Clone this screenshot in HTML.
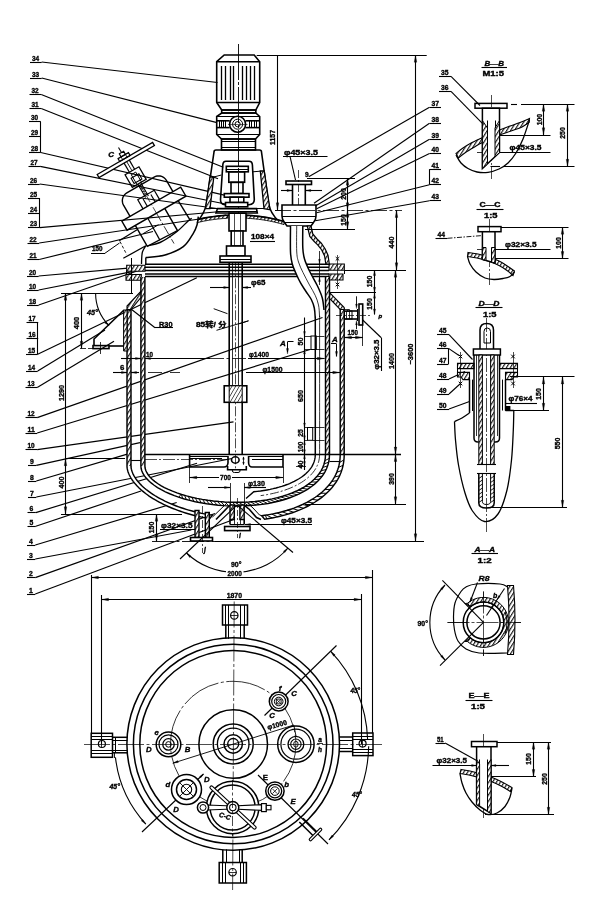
<!DOCTYPE html>
<html><head><meta charset="utf-8"><title>Reactor assembly drawing</title>
<style>
html,body{margin:0;padding:0;background:#fff}
svg{display:block;will-change:transform}
svg *{vector-effect:none}
text{font-family:"Liberation Sans","Noto Sans CJK SC",sans-serif;fill:#000;stroke:#000;stroke-width:0.35px;font-weight:bold}
</style></head><body>
<svg width="600" height="905" viewBox="0 0 600 905" stroke="#000" fill="none" stroke-linecap="butt" stroke-linejoin="miter">
<defs>
<pattern id="h" width="3.3" height="3.3" patternUnits="userSpaceOnUse" patternTransform="rotate(-58)"><rect width="3.3" height="3.3" fill="#fff" stroke="none"/><line x1="0" y1="0.6" x2="3.3" y2="0.6" stroke="#000" stroke-width="1.05"/></pattern>
<pattern id="h2" width="3.3" height="3.3" patternUnits="userSpaceOnUse" patternTransform="rotate(-58)"><rect width="3.3" height="3.3" fill="#fff" stroke="none"/><line x1="0" y1="0.6" x2="3.3" y2="0.6" stroke="#000" stroke-width="1.05"/></pattern>
<pattern id="h3" width="3.2" height="3.2" patternUnits="userSpaceOnUse" patternTransform="rotate(-60)"><rect width="3.2" height="3.2" fill="#fff" stroke="none"/><line x1="0" y1="0" x2="3.2" y2="0" stroke="#000" stroke-width="1.2"/></pattern>
</defs>
<rect x="0" y="0" width="600" height="905" fill="#fff" stroke="none"/>
<text x="32" y="60.7" font-size="7.6" textLength="7.2" lengthAdjust="spacingAndGlyphs" font-weight="bold">34</text>
<line x1="30" y1="62.5" x2="41.7" y2="62.5" stroke-width="1.1"/>
<text x="32" y="76.7" font-size="7.6" textLength="7.2" lengthAdjust="spacingAndGlyphs" font-weight="bold">33</text>
<line x1="30" y1="78.5" x2="41.7" y2="78.5" stroke-width="1.1"/>
<text x="31.5" y="93.2" font-size="7.6" textLength="7.2" lengthAdjust="spacingAndGlyphs" font-weight="bold">32</text>
<line x1="29.5" y1="94.5" x2="41.2" y2="94.5" stroke-width="1.1"/>
<text x="31.5" y="107.2" font-size="7.6" textLength="7.2" lengthAdjust="spacingAndGlyphs" font-weight="bold">31</text>
<line x1="29.5" y1="108.5" x2="41.2" y2="108.5" stroke-width="1.1"/>
<text x="31" y="120.2" font-size="7.6" textLength="7.2" lengthAdjust="spacingAndGlyphs" font-weight="bold">30</text>
<line x1="29" y1="121.5" x2="40.7" y2="121.5" stroke-width="1.1"/>
<text x="31" y="134.7" font-size="7.6" textLength="7.2" lengthAdjust="spacingAndGlyphs" font-weight="bold">29</text>
<line x1="29" y1="136.5" x2="40.7" y2="136.5" stroke-width="1.1"/>
<text x="31" y="151.2" font-size="7.6" textLength="7.2" lengthAdjust="spacingAndGlyphs" font-weight="bold">28</text>
<line x1="29" y1="152.5" x2="40.7" y2="152.5" stroke-width="1.1"/>
<text x="30.5" y="165" font-size="7.6" textLength="7.2" lengthAdjust="spacingAndGlyphs" font-weight="bold">27</text>
<line x1="28.5" y1="166.5" x2="40.2" y2="166.5" stroke-width="1.1"/>
<text x="30" y="182.7" font-size="7.6" textLength="7.2" lengthAdjust="spacingAndGlyphs" font-weight="bold">26</text>
<line x1="28" y1="184.5" x2="39.7" y2="184.5" stroke-width="1.1"/>
<text x="30" y="196.7" font-size="7.6" textLength="7.2" lengthAdjust="spacingAndGlyphs" font-weight="bold">25</text>
<line x1="28" y1="198.5" x2="39.7" y2="198.5" stroke-width="1.1"/>
<text x="30" y="212.4" font-size="7.6" textLength="7.2" lengthAdjust="spacingAndGlyphs" font-weight="bold">24</text>
<line x1="28" y1="213.5" x2="39.7" y2="213.5" stroke-width="1.1"/>
<text x="30" y="226.4" font-size="7.6" textLength="7.2" lengthAdjust="spacingAndGlyphs" font-weight="bold">23</text>
<line x1="28" y1="227.5" x2="39.7" y2="227.5" stroke-width="1.1"/>
<text x="29.5" y="241.7" font-size="7.6" textLength="7.2" lengthAdjust="spacingAndGlyphs" font-weight="bold">22</text>
<line x1="27.5" y1="243.5" x2="39.2" y2="243.5" stroke-width="1.1"/>
<text x="29.5" y="258.2" font-size="7.6" textLength="7.2" lengthAdjust="spacingAndGlyphs" font-weight="bold">21</text>
<line x1="27.5" y1="259.5" x2="39.2" y2="259.5" stroke-width="1.1"/>
<text x="29" y="274.7" font-size="7.6" textLength="7.2" lengthAdjust="spacingAndGlyphs" font-weight="bold">20</text>
<line x1="27" y1="276.5" x2="38.7" y2="276.5" stroke-width="1.1"/>
<text x="29" y="288.7" font-size="7.6" textLength="7.2" lengthAdjust="spacingAndGlyphs" font-weight="bold">10</text>
<line x1="27" y1="290.5" x2="38.7" y2="290.5" stroke-width="1.1"/>
<text x="29" y="303.7" font-size="7.6" textLength="7.2" lengthAdjust="spacingAndGlyphs" font-weight="bold">18</text>
<line x1="27" y1="305.5" x2="38.7" y2="305.5" stroke-width="1.1"/>
<text x="28.5" y="320.7" font-size="7.6" textLength="7.2" lengthAdjust="spacingAndGlyphs" font-weight="bold">17</text>
<line x1="26.5" y1="322.5" x2="38.2" y2="322.5" stroke-width="1.1"/>
<text x="28.5" y="337.4" font-size="7.6" textLength="7.2" lengthAdjust="spacingAndGlyphs" font-weight="bold">16</text>
<line x1="26.5" y1="338.5" x2="38.2" y2="338.5" stroke-width="1.1"/>
<text x="28" y="353" font-size="7.6" textLength="7.2" lengthAdjust="spacingAndGlyphs" font-weight="bold">15</text>
<line x1="26" y1="354.5" x2="37.7" y2="354.5" stroke-width="1.1"/>
<text x="28" y="369.7" font-size="7.6" textLength="7.2" lengthAdjust="spacingAndGlyphs" font-weight="bold">14</text>
<line x1="26" y1="371.5" x2="37.7" y2="371.5" stroke-width="1.1"/>
<text x="27.5" y="386.3" font-size="7.6" textLength="7.2" lengthAdjust="spacingAndGlyphs" font-weight="bold">13</text>
<line x1="25.5" y1="387.5" x2="37.2" y2="387.5" stroke-width="1.1"/>
<text x="27.5" y="416.3" font-size="7.6" textLength="7.2" lengthAdjust="spacingAndGlyphs" font-weight="bold">12</text>
<line x1="25.5" y1="417.5" x2="37.2" y2="417.5" stroke-width="1.1"/>
<text x="27.5" y="431.7" font-size="7.6" textLength="7.2" lengthAdjust="spacingAndGlyphs" font-weight="bold">11</text>
<line x1="25.5" y1="433.5" x2="37.2" y2="433.5" stroke-width="1.1"/>
<text x="27.5" y="448.3" font-size="7.6" textLength="7.2" lengthAdjust="spacingAndGlyphs" font-weight="bold">10</text>
<line x1="25.5" y1="449.5" x2="37.2" y2="449.5" stroke-width="1.1"/>
<text x="30" y="464.1" font-size="7.6" textLength="3.8" lengthAdjust="spacingAndGlyphs" font-weight="bold">9</text>
<line x1="28" y1="465.5" x2="36.3" y2="465.5" stroke-width="1.1"/>
<text x="30" y="479.7" font-size="7.6" textLength="3.8" lengthAdjust="spacingAndGlyphs" font-weight="bold">8</text>
<line x1="28" y1="481.5" x2="36.3" y2="481.5" stroke-width="1.1"/>
<text x="30" y="495.7" font-size="7.6" textLength="3.8" lengthAdjust="spacingAndGlyphs" font-weight="bold">7</text>
<line x1="28" y1="497.5" x2="36.3" y2="497.5" stroke-width="1.1"/>
<text x="29.5" y="511.3" font-size="7.6" textLength="3.8" lengthAdjust="spacingAndGlyphs" font-weight="bold">6</text>
<line x1="27.5" y1="512.5" x2="35.8" y2="512.5" stroke-width="1.1"/>
<text x="29.5" y="525" font-size="7.6" textLength="3.8" lengthAdjust="spacingAndGlyphs" font-weight="bold">5</text>
<line x1="27.5" y1="526.5" x2="35.8" y2="526.5" stroke-width="1.1"/>
<text x="29" y="543.7" font-size="7.6" textLength="3.8" lengthAdjust="spacingAndGlyphs" font-weight="bold">4</text>
<line x1="27" y1="545.5" x2="35.3" y2="545.5" stroke-width="1.1"/>
<text x="29" y="557.7" font-size="7.6" textLength="3.8" lengthAdjust="spacingAndGlyphs" font-weight="bold">3</text>
<line x1="27" y1="559.5" x2="35.3" y2="559.5" stroke-width="1.1"/>
<text x="29" y="576.3" font-size="7.6" textLength="3.8" lengthAdjust="spacingAndGlyphs" font-weight="bold">2</text>
<line x1="27" y1="577.5" x2="35.3" y2="577.5" stroke-width="1.1"/>
<text x="29" y="592.7" font-size="7.6" textLength="3.8" lengthAdjust="spacingAndGlyphs" font-weight="bold">1</text>
<line x1="27" y1="594.5" x2="35.3" y2="594.5" stroke-width="1.1"/>
<line x1="40.5" y1="121.5" x2="40.5" y2="152.5" stroke-width="1.1"/>
<line x1="39.5" y1="198" x2="39.5" y2="227.7" stroke-width="1.1"/>
<line x1="37.5" y1="322" x2="37.5" y2="354.3" stroke-width="1.1"/>
<line x1="41.7" y1="62" x2="217.5" y2="82.5" stroke-width="1.2"/>
<line x1="41.7" y1="78" x2="217" y2="122.6" stroke-width="1.2"/>
<line x1="41.2" y1="94.5" x2="223.3" y2="167.3" stroke-width="1.2"/>
<line x1="41.2" y1="108.5" x2="218" y2="178.7" stroke-width="1.2"/>
<line x1="40.7" y1="152.5" x2="225.3" y2="195.3" stroke-width="1.2"/>
<line x1="40.2" y1="166.3" x2="225.3" y2="204" stroke-width="1.2"/>
<line x1="39.7" y1="184" x2="217" y2="208.5" stroke-width="1.2"/>
<line x1="39.7" y1="227.7" x2="221" y2="211.5" stroke-width="1.2"/>
<line x1="39.2" y1="243" x2="226" y2="215" stroke-width="1.2"/>
<line x1="39.2" y1="259.5" x2="153" y2="231.5" stroke-width="1.2"/>
<line x1="38.7" y1="276" x2="130.8" y2="267.8" stroke-width="1.2"/>
<line x1="38.7" y1="290" x2="131" y2="271.8" stroke-width="1.2"/>
<line x1="38.7" y1="305" x2="140" y2="270" stroke-width="1.2"/>
<line x1="37.7" y1="354.3" x2="196.8" y2="277.7" stroke-width="1.2"/>
<line x1="37.7" y1="371" x2="105" y2="330" stroke-width="1.2"/>
<line x1="37.2" y1="387.6" x2="114" y2="341.3" stroke-width="1.2"/>
<line x1="37.2" y1="417.6" x2="322.5" y2="317.5" stroke-width="1.2"/>
<line x1="37.2" y1="433" x2="310" y2="349.5" stroke-width="1.2"/>
<line x1="37.2" y1="449.6" x2="233.5" y2="421.8" stroke-width="1.2"/>
<line x1="36.3" y1="465.4" x2="140" y2="442.7" stroke-width="1.2"/>
<line x1="36.3" y1="481" x2="129" y2="453.7" stroke-width="1.2"/>
<line x1="36.3" y1="497" x2="232" y2="458.5" stroke-width="1.2"/>
<line x1="35.8" y1="512.6" x2="197" y2="463.3" stroke-width="1.2"/>
<line x1="35.8" y1="526.3" x2="141" y2="491" stroke-width="1.2"/>
<line x1="35.3" y1="545" x2="176.7" y2="502.5" stroke-width="1.2"/>
<line x1="35.3" y1="559" x2="191.3" y2="530" stroke-width="1.2"/>
<line x1="35.3" y1="577.6" x2="215" y2="513.5" stroke-width="1.2"/>
<line x1="35.3" y1="594" x2="235" y2="519" stroke-width="1.2"/>
<line x1="238.5" y1="44" x2="238.5" y2="262" stroke-width="0.9" stroke-dasharray="36 2 3 2"/>
<path d="M224.2 55 L254.2 55 L259.7 61.7 L259.7 102.5 L255.8 110 L221.7 110 L216.7 102.5 L216.7 61.7 Z" stroke-width="1.6" fill="none"/>
<line x1="216.7" y1="61.7" x2="259.7" y2="61.7" stroke-width="1.6"/>
<line x1="216.7" y1="102.5" x2="259.7" y2="102.5" stroke-width="1.6"/>
<line x1="221.5" y1="66" x2="221.5" y2="100" stroke-width="1.3"/>
<line x1="225.5" y1="66" x2="225.5" y2="100" stroke-width="1.3"/>
<line x1="230.5" y1="66" x2="230.5" y2="100" stroke-width="1.3"/>
<line x1="233.5" y1="66" x2="233.5" y2="100" stroke-width="1.3"/>
<line x1="242.5" y1="66" x2="242.5" y2="100" stroke-width="1.3"/>
<line x1="246.5" y1="66" x2="246.5" y2="100" stroke-width="1.3"/>
<line x1="250.5" y1="66" x2="250.5" y2="100" stroke-width="1.3"/>
<line x1="254.5" y1="66" x2="254.5" y2="100" stroke-width="1.3"/>
<rect x="221.7" y="110" width="34.1" height="3" stroke-width="1.6" fill="none"/>
<path d="M221.7 113 H255.8 L259.7 116.5 V134.5 L255.5 139 H221.5 L216.7 134.5 V116.5 Z" stroke-width="1.6" fill="none"/>
<line x1="216.7" y1="116.5" x2="259.7" y2="116.5" stroke-width="1"/>
<line x1="216.7" y1="120.8" x2="229.6" y2="120.8" stroke-width="1.6"/>
<line x1="245.6" y1="120.8" x2="259.7" y2="120.8" stroke-width="1.6"/>
<line x1="216.7" y1="127.6" x2="229.6" y2="127.6" stroke-width="1.6"/>
<line x1="245.6" y1="127.6" x2="259.7" y2="127.6" stroke-width="1.6"/>
<line x1="216.7" y1="134.5" x2="259.7" y2="134.5" stroke-width="1"/>
<line x1="219.5" y1="120.8" x2="219.5" y2="127.6" stroke-width="1"/>
<line x1="221.5" y1="120.8" x2="221.5" y2="127.6" stroke-width="1"/>
<line x1="223.5" y1="120.8" x2="223.5" y2="127.6" stroke-width="1"/>
<line x1="225.5" y1="120.8" x2="225.5" y2="127.6" stroke-width="1"/>
<line x1="249.5" y1="120.8" x2="249.5" y2="127.6" stroke-width="1"/>
<line x1="251.5" y1="120.8" x2="251.5" y2="127.6" stroke-width="1"/>
<line x1="254.5" y1="120.8" x2="254.5" y2="127.6" stroke-width="1"/>
<line x1="256.5" y1="120.8" x2="256.5" y2="127.6" stroke-width="1"/>
<circle cx="237.6" cy="124.2" r="8" stroke-width="1.6" fill="none"/>
<circle cx="237.6" cy="124.2" r="5" stroke-width="1" fill="none"/>
<circle cx="237.6" cy="124.2" r="2.6" stroke-width="1" fill="none"/>
<line x1="228" y1="124.5" x2="247.5" y2="124.5" stroke-width="0.6"/>
<rect x="221.5" y="139" width="34" height="11" stroke-width="1.6" fill="none"/>
<line x1="221.5" y1="141.5" x2="255.5" y2="141.5" stroke-width="1"/>
<line x1="221.5" y1="147.5" x2="255.5" y2="147.5" stroke-width="1"/>
<path d="M214 152 Q214 150 216 150 H259.5 Q261.5 150 261.5 152 L268.5 203 Q270 213 279 221.5" stroke-width="1.6" fill="none"/>
<path d="M214 152 L206.5 203 Q205 213 197.5 221" stroke-width="1.6" fill="none"/>
<path d="M210 177 L213.8 177 L210 208.6 L205.5 208.6 Z" stroke-width="1.3" fill="url(#h)"/>
<line x1="213.8" y1="177" x2="221.3" y2="175" stroke-width="1"/>
<line x1="205.5" y1="208.5" x2="217.5" y2="208.5" stroke-width="1"/>
<path d="M264.2 171 L260.3 171 L264 208.6 L270 209.8 Z" stroke-width="1.3" fill="url(#h)"/>
<line x1="260.3" y1="171.2" x2="252.8" y2="171.8" stroke-width="1"/>
<line x1="257" y1="208.5" x2="264" y2="208.5" stroke-width="1"/>
<path d="M226 161.3 H249 Q252.2 161.3 252.4 165 L254.3 199.5 Q254.3 204.3 249 204.8 H225 Q220.3 204.3 220.5 199.5 L222.8 165 Q223 161.3 226 161.3 Z" stroke-width="1.6" fill="none"/>
<rect x="226.3" y="166.3" width="22" height="5.5" stroke-width="1.6" fill="none"/>
<line x1="226.3" y1="169.5" x2="248.3" y2="169.5" stroke-width="1"/>
<rect x="228.8" y="171.8" width="15.8" height="10.5" stroke-width="1.6" fill="none"/>
<rect x="231" y="182.3" width="12" height="11.2" stroke-width="1.6" fill="none"/>
<rect x="224.3" y="193.6" width="24.7" height="3.6" stroke-width="1.6" fill="#fff"/>
<rect x="230" y="197.2" width="13.8" height="5.3" stroke-width="1.6" fill="none"/>
<rect x="225.5" y="202.5" width="22.2" height="4.3" stroke-width="1.6" fill="#fff"/>
<path d="M217.5 208.6 L256.5 208.6 L257.3 213 L216 213 Z" stroke-width="1.6" fill="none"/>
<line x1="216.8" y1="211.5" x2="257" y2="211.5" stroke-width="1"/>
<path d="M198 219.43 L199.23 219.14 L200.46 218.87 L201.69 218.6 L202.92 218.34 L204.15 218.1 L205.38 217.86 L206.6 217.64 L207.83 217.42 L209.06 217.22 L210.29 217.02 L211.52 216.84 L212.75 216.66 L213.98 216.5 L215.21 216.34 L216.44 216.19 L217.67 216.05 L218.9 215.92 L220.12 215.8 L221.35 215.68 L222.58 215.58 L223.81 215.49 L225.04 215.4 L226.27 215.32 L227.5 215.25 L227.5 218.25 L226.23 218.32 L224.96 218.4 L223.69 218.5 L222.42 218.59 L221.15 218.7 L219.88 218.82 L218.6 218.95 L217.33 219.09 L216.06 219.23 L214.79 219.39 L213.52 219.56 L212.25 219.74 L210.98 219.92 L209.71 220.12 L208.44 220.33 L207.17 220.55 L205.9 220.77 L204.62 221.01 L203.35 221.27 L202.08 221.53 L200.81 221.8 L199.54 222.09 L198.27 222.38 L197 222.69 Z" stroke-width="0.9" fill="url(#h)"/>
<path d="M246 215.23 L247.58 215.31 L249.17 215.41 L250.75 215.53 L252.33 215.66 L253.92 215.8 L255.5 215.96 L257.08 216.13 L258.67 216.32 L260.25 216.53 L261.83 216.74 L263.42 216.98 L265 217.23 L266.58 217.5 L268.17 217.78 L269.75 218.08 L271.33 218.4 L272.92 218.73 L274.5 219.08 L276.08 219.45 L277.67 219.84 L279.25 220.25 L280.83 220.68 L282.42 221.13 L284 221.6 L284 224.64 L282.42 224.16 L280.83 223.71 L279.25 223.27 L277.67 222.86 L276.08 222.47 L274.5 222.1 L272.92 221.74 L271.33 221.41 L269.75 221.09 L268.17 220.79 L266.58 220.5 L265 220.23 L263.42 219.98 L261.83 219.75 L260.25 219.53 L258.67 219.32 L257.08 219.13 L255.5 218.96 L253.92 218.8 L252.33 218.66 L250.75 218.53 L249.17 218.41 L247.58 218.31 L246 218.23 Z" stroke-width="0.9" fill="url(#h2)"/>
<path d="M198 219.43 L201.58 218.62 L205.17 217.9 L208.75 217.27 L212.33 216.72 L215.92 216.25 L219.5 215.86 L223.08 215.54 L226.67 215.3 L230.25 215.13 L233.83 215.03 L237.42 215 L241 215.04 L244.58 215.16 L248.17 215.35 L251.75 215.61 L255.33 215.94 L258.92 216.35 L262.5 216.84 L266.08 217.41 L269.67 218.06 L273.25 218.8 L276.83 219.63 L280.42 220.56 L284 221.6" stroke-width="1.6" fill="none"/>
<rect x="229" y="213.2" width="17" height="17.8" stroke-width="1.6" fill="#fff"/>
<rect x="231.2" y="231" width="11.8" height="15" stroke-width="1.6" fill="#fff"/>
<line x1="234.5" y1="213.2" x2="234.5" y2="246" stroke-width="0.7"/>
<line x1="240.5" y1="213.2" x2="240.5" y2="246" stroke-width="0.7"/>
<rect x="226.5" y="246" width="18.5" height="10" stroke-width="1.6" fill="#fff"/>
<rect x="220" y="256" width="31" height="6.3" stroke-width="1.6" fill="#fff"/>
<line x1="220" y1="259.5" x2="251" y2="259.5" stroke-width="1"/>
<line x1="145" y1="264.3" x2="329" y2="264.3" stroke-width="1.5"/>
<line x1="145" y1="267.3" x2="329" y2="267.3" stroke-width="1.5"/>
<line x1="145" y1="270.4" x2="329" y2="270.4" stroke-width="1.5"/>
<line x1="145" y1="274" x2="329" y2="274" stroke-width="1.5"/>
<line x1="145" y1="276.6" x2="329" y2="276.6" stroke-width="1.5"/>
<path d="M126.7 265.2 H145 V271.2 H126.7 Z" stroke-width="1.1" fill="url(#h)"/>
<path d="M126 274.5 H141.3 V280.2 H126 Z" stroke-width="1.1" fill="url(#h)"/>
<line x1="126.5" y1="270.6" x2="126.5" y2="274" stroke-width="1"/>
<line x1="131.5" y1="258" x2="131.5" y2="293" stroke-width="1"/>
<path d="M329 264 H344.3 V270.3 H329 Z" stroke-width="1.1" fill="url(#h2)"/>
<path d="M329 274 H343 V280 H329 Z" stroke-width="1.1" fill="url(#h2)"/>
<line x1="344.5" y1="270.3" x2="344.5" y2="274" stroke-width="1"/>
<line x1="335.7" y1="257" x2="339.3" y2="260.6" stroke-width="1"/>
<line x1="335.7" y1="260.6" x2="339.3" y2="257" stroke-width="1"/>
<line x1="335.7" y1="282.7" x2="339.3" y2="286.3" stroke-width="1"/>
<line x1="335.7" y1="286.3" x2="339.3" y2="282.7" stroke-width="1"/>
<line x1="337.5" y1="255" x2="337.5" y2="289" stroke-width="0.7"/>
<path d="M329.5 277 L329.5 454 L325.5 454 L325.5 277 Z" fill="url(#h)" stroke="none"/>
<path d="M329.5 454 L329.31 458.11 L328.75 461.82 L327.81 465.37 L326.51 468.79 L324.84 472.09 L322.8 475.28 L320.42 478.35 L317.69 481.29 L314.62 484.1 L311.23 486.77 L307.52 489.3 L303.51 491.67 L299.21 493.88 L294.63 495.93 L289.78 497.8 L284.69 499.49 L279.35 500.99 L273.79 502.31 L268.01 503.43 L262.02 504.35 L255.82 505.07 L249.39 505.59 L242.66 505.9 L235.2 506 L229.86 505.91 L224.14 505.64 L218.32 505.19 L212.47 504.57 L206.65 503.77 L200.89 502.8 L195.25 501.67 L189.74 500.38 L184.41 498.94 L179.27 497.35 L174.37 495.63 L169.73 493.77 L165.36 491.8 L161.29 489.72 L157.55 487.55 L154.15 485.28 L151.11 482.95 L148.44 480.55 L146.16 478.11 L144.28 475.64 L142.81 473.16 L141.75 470.69 L141.11 468.27 L140.9 466 L144.9 466 L145.1 468.06 L145.71 470.26 L146.73 472.5 L148.14 474.75 L149.94 476.99 L152.12 479.21 L154.68 481.38 L157.59 483.5 L160.84 485.55 L164.43 487.53 L168.32 489.42 L172.5 491.2 L176.95 492.89 L181.65 494.45 L186.56 495.89 L191.67 497.2 L196.94 498.37 L202.35 499.4 L207.86 500.28 L213.43 501 L219.04 501.57 L224.61 501.97 L230.08 502.22 L235.2 502.3 L242.34 502.2 L248.79 501.92 L254.94 501.44 L260.88 500.77 L266.62 499.91 L272.15 498.87 L277.48 497.65 L282.59 496.25 L287.47 494.68 L292.11 492.94 L296.49 491.04 L300.61 488.99 L304.46 486.79 L308.01 484.44 L311.25 481.96 L314.19 479.35 L316.8 476.61 L319.09 473.76 L321.03 470.8 L322.63 467.74 L323.88 464.56 L324.78 461.27 L325.32 457.82 L325.5 454 Z" fill="#fff" stroke="none"/>
<line x1="329.28" y1="458.38" x2="324.91" y2="460.63" stroke-width="0.95"/>
<line x1="328.69" y1="462.11" x2="324.07" y2="463.97" stroke-width="0.95"/>
<line x1="327.64" y1="465.9" x2="322.78" y2="467.4" stroke-width="0.95"/>
<line x1="326.16" y1="469.56" x2="321.09" y2="470.71" stroke-width="0.95"/>
<line x1="324.26" y1="473.08" x2="319" y2="473.89" stroke-width="0.95"/>
<line x1="322.1" y1="476.25" x2="316.68" y2="476.76" stroke-width="0.95"/>
<line x1="319.58" y1="479.3" x2="314.02" y2="479.51" stroke-width="0.95"/>
<line x1="316.92" y1="482.04" x2="311.25" y2="481.96" stroke-width="0.95"/>
<line x1="313.96" y1="484.65" x2="308.21" y2="484.3" stroke-width="0.95"/>
<line x1="310.96" y1="486.97" x2="305.14" y2="486.36" stroke-width="0.95"/>
<line x1="307.72" y1="489.17" x2="301.84" y2="488.32" stroke-width="0.95"/>
<line x1="304.24" y1="491.26" x2="298.33" y2="490.16" stroke-width="0.95"/>
<line x1="300.84" y1="493.08" x2="294.91" y2="491.76" stroke-width="0.95"/>
<line x1="297.25" y1="494.79" x2="291.31" y2="493.26" stroke-width="0.95"/>
<line x1="293.8" y1="496.27" x2="287.88" y2="494.54" stroke-width="0.95"/>
<line x1="290.21" y1="497.64" x2="284.31" y2="495.73" stroke-width="0.95"/>
<line x1="286.48" y1="498.92" x2="280.61" y2="496.82" stroke-width="0.95"/>
<line x1="282.62" y1="500.1" x2="276.79" y2="497.82" stroke-width="0.95"/>
<line x1="279" y1="501.08" x2="273.21" y2="498.64" stroke-width="0.95"/>
<line x1="275.28" y1="501.98" x2="269.54" y2="499.39" stroke-width="0.95"/>
<line x1="271.45" y1="502.79" x2="265.78" y2="500.05" stroke-width="0.95"/>
<line x1="267.53" y1="503.51" x2="261.93" y2="500.63" stroke-width="0.95"/>
<line x1="263.52" y1="504.14" x2="257.99" y2="501.12" stroke-width="0.95"/>
<line x1="259.83" y1="504.63" x2="254.36" y2="501.49" stroke-width="0.95"/>
<line x1="256.06" y1="505.05" x2="250.65" y2="501.79" stroke-width="0.95"/>
<line x1="251.77" y1="505.42" x2="246.42" y2="502.05" stroke-width="0.95"/>
<line x1="248.26" y1="505.65" x2="242.93" y2="502.19" stroke-width="0.95"/>
<line x1="244.2" y1="505.84" x2="238.84" y2="502.28" stroke-width="0.95"/>
<line x1="240.45" y1="505.95" x2="234.97" y2="502.3" stroke-width="0.95"/>
<line x1="236.46" y1="506" x2="232.26" y2="502.27" stroke-width="0.95"/>
<line x1="232.49" y1="505.98" x2="228.66" y2="502.17" stroke-width="0.95"/>
<line x1="228.75" y1="505.87" x2="224.97" y2="501.99" stroke-width="0.95"/>
<line x1="224.52" y1="505.66" x2="220.86" y2="501.72" stroke-width="0.95"/>
<line x1="221.01" y1="505.42" x2="217.47" y2="501.42" stroke-width="0.95"/>
<line x1="217.08" y1="505.07" x2="213.71" y2="501.03" stroke-width="0.95"/>
<line x1="213.15" y1="504.65" x2="209.95" y2="500.57" stroke-width="0.95"/>
<line x1="209.23" y1="504.14" x2="206.22" y2="500.03" stroke-width="0.95"/>
<line x1="205.33" y1="503.56" x2="202.53" y2="499.43" stroke-width="0.95"/>
<line x1="201.46" y1="502.91" x2="198.88" y2="498.76" stroke-width="0.95"/>
<line x1="197.65" y1="502.17" x2="195.28" y2="498.02" stroke-width="0.95"/>
<line x1="193.89" y1="501.37" x2="191.76" y2="497.22" stroke-width="0.95"/>
<line x1="190.2" y1="500.49" x2="188.3" y2="496.36" stroke-width="0.95"/>
<line x1="186.22" y1="499.45" x2="184.6" y2="495.34" stroke-width="0.95"/>
<line x1="182.7" y1="498.43" x2="181.33" y2="494.35" stroke-width="0.95"/>
<line x1="178.94" y1="497.24" x2="181.01" y2="494.25" stroke-width="0.95"/>
<path d="M140.9 277 L140.9 466 L144.9 466 L144.9 277 Z" fill="url(#h)" stroke="none"/>
<path d="M329.5 277 L329.5 454 L329.31 458.11 L328.75 461.82 L327.81 465.37 L326.51 468.79 L324.84 472.09 L322.8 475.28 L320.42 478.35 L317.69 481.29 L314.62 484.1 L311.23 486.77 L307.52 489.3 L303.51 491.67 L299.21 493.88 L294.63 495.93 L289.78 497.8 L284.69 499.49 L279.35 500.99 L273.79 502.31 L268.01 503.43 L262.02 504.35 L255.82 505.07 L249.39 505.59 L242.66 505.9 L235.2 506 L229.86 505.91 L224.14 505.64 L218.32 505.19 L212.47 504.57 L206.65 503.77 L200.89 502.8 L195.25 501.67 L189.74 500.38 L184.41 498.94 L179.27 497.35 L174.37 495.63 L169.73 493.77 L165.36 491.8 L161.29 489.72 L157.55 487.55 L154.15 485.28 L151.11 482.95 L148.44 480.55 L146.16 478.11 L144.28 475.64 L142.81 473.16 L141.75 470.69 L141.11 468.27 L140.9 466 L140.9 277" stroke-width="1.45" fill="none"/>
<path d="M325.5 277 L325.5 454 L325.32 457.82 L324.78 461.27 L323.88 464.56 L322.63 467.74 L321.03 470.8 L319.09 473.76 L316.8 476.61 L314.19 479.35 L311.25 481.96 L308.01 484.44 L304.46 486.79 L300.61 488.99 L296.49 491.04 L292.11 492.94 L287.47 494.68 L282.59 496.25 L277.48 497.65 L272.15 498.87 L266.62 499.91 L260.88 500.77 L254.94 501.44 L248.79 501.92 L242.34 502.2 L235.2 502.3 L230.08 502.22 L224.61 501.97 L219.04 501.57 L213.43 501 L207.86 500.28 L202.35 499.4 L196.94 498.37 L191.67 497.2 L186.56 495.89 L181.65 494.45 L176.95 492.89 L172.5 491.2 L168.32 489.42 L164.43 487.53 L160.84 485.55 L157.59 483.5 L154.68 481.38 L152.12 479.21 L149.94 476.99 L148.14 474.75 L146.73 472.5 L145.71 470.26 L145.1 468.06 L144.9 466 L144.9 277" stroke-width="1.45" fill="none"/>
<path d="M344.2 309 L344.2 454 L340.2 454 L340.2 309 Z" fill="url(#h)" stroke="none"/>
<path d="M344.2 454 L344.16 456.38 L344.05 458.53 L343.85 460.6 L343.58 462.62 L343.24 464.6 L342.81 466.54 L342.31 468.45 L341.74 470.33 L341.09 472.19 L340.36 474.01 L339.56 475.82 L338.69 477.59 L337.74 479.34 L336.71 481.06 L335.62 482.75 L334.45 484.42 L333.21 486.05 L331.9 487.66 L330.52 489.24 L329.08 490.79 L327.56 492.31 L325.98 493.79 L324.33 495.25 L322.61 496.67 L320.83 498.06 L318.99 499.41 L317.08 500.73 L315.12 502.01 L313.09 503.25 L311 504.46 L308.86 505.63 L306.66 506.76 L304.4 507.85 L302.09 508.9 L299.73 509.91 L297.31 510.88 L294.84 511.81 L292.32 512.7 L289.76 513.54 L287.14 514.35 L284.48 515.1 L281.77 515.82 L279.02 516.48 L276.22 517.11 L273.38 517.69 L270.5 518.22 L267.58 518.71 L264.61 519.15 L261.71 515.69 L264.63 515.3 L267.52 514.86 L270.35 514.38 L273.15 513.85 L275.9 513.28 L278.61 512.66 L281.28 512 L283.9 511.3 L286.47 510.56 L289 509.77 L291.48 508.95 L293.92 508.08 L296.3 507.17 L298.63 506.22 L300.91 505.23 L303.13 504.21 L305.3 503.14 L307.42 502.04 L309.48 500.9 L311.48 499.72 L313.42 498.51 L315.3 497.26 L317.12 495.98 L318.87 494.67 L320.57 493.32 L322.19 491.94 L323.76 490.53 L325.26 489.08 L326.69 487.61 L328.05 486.11 L329.34 484.58 L330.56 483.02 L331.72 481.43 L332.8 479.82 L333.81 478.18 L334.75 476.51 L335.61 474.82 L336.41 473.1 L337.12 471.36 L337.77 469.59 L338.34 467.8 L338.83 465.97 L339.25 464.12 L339.59 462.23 L339.86 460.3 L340.05 458.33 L340.16 456.27 L340.2 454 Z" fill="#fff" stroke="none"/>
<line x1="343.93" y1="459.88" x2="339.54" y2="462.53" stroke-width="1"/>
<line x1="343.11" y1="465.22" x2="338.44" y2="467.43" stroke-width="1"/>
<line x1="341.69" y1="470.49" x2="336.75" y2="472.29" stroke-width="1"/>
<line x1="339.61" y1="475.72" x2="334.43" y2="477.1" stroke-width="1"/>
<line x1="337.02" y1="480.56" x2="331.63" y2="481.56" stroke-width="1"/>
<line x1="333.98" y1="485.05" x2="328.42" y2="485.68" stroke-width="1"/>
<line x1="330.44" y1="489.34" x2="324.73" y2="489.61" stroke-width="1"/>
<line x1="326.55" y1="493.27" x2="320.72" y2="493.19" stroke-width="1"/>
<line x1="322.38" y1="496.85" x2="316.46" y2="496.45" stroke-width="1"/>
<line x1="317.99" y1="500.11" x2="312" y2="499.4" stroke-width="1"/>
<line x1="313.43" y1="503.05" x2="307.4" y2="502.04" stroke-width="1"/>
<line x1="308.56" y1="505.79" x2="302.51" y2="504.5" stroke-width="1"/>
<line x1="303.59" y1="508.23" x2="297.55" y2="506.67" stroke-width="1"/>
<line x1="298.59" y1="510.38" x2="292.56" y2="508.57" stroke-width="1"/>
<line x1="293.58" y1="512.26" x2="287.59" y2="510.22" stroke-width="1"/>
<line x1="288.13" y1="514.05" x2="282.19" y2="511.77" stroke-width="1"/>
<line x1="282.97" y1="515.51" x2="277.08" y2="513.02" stroke-width="1"/>
<line x1="277.64" y1="516.8" x2="271.82" y2="514.11" stroke-width="1"/>
<line x1="272.14" y1="517.92" x2="266.4" y2="515.04" stroke-width="1"/>
<line x1="266.76" y1="518.83" x2="265.35" y2="515.19" stroke-width="1"/>
<path d="M344.2 309 L344.2 454 L344.16 456.38 L344.05 458.53 L343.85 460.6 L343.58 462.62 L343.24 464.6 L342.81 466.54 L342.31 468.45 L341.74 470.33 L341.09 472.19 L340.36 474.01 L339.56 475.82 L338.69 477.59 L337.74 479.34 L336.71 481.06 L335.62 482.75 L334.45 484.42 L333.21 486.05 L331.9 487.66 L330.52 489.24 L329.08 490.79 L327.56 492.31 L325.98 493.79 L324.33 495.25 L322.61 496.67 L320.83 498.06 L318.99 499.41 L317.08 500.73 L315.12 502.01 L313.09 503.25 L311 504.46 L308.86 505.63 L306.66 506.76 L304.4 507.85 L302.09 508.9 L299.73 509.91 L297.31 510.88 L294.84 511.81 L292.32 512.7 L289.76 513.54 L287.14 514.35 L284.48 515.1 L281.77 515.82 L279.02 516.48 L276.22 517.11 L273.38 517.69 L270.5 518.22 L267.58 518.71 L264.61 519.15 L261.71 515.69 L264.63 515.3 L267.52 514.86 L270.35 514.38 L273.15 513.85 L275.9 513.28 L278.61 512.66 L281.28 512 L283.9 511.3 L286.47 510.56 L289 509.77 L291.48 508.95 L293.92 508.08 L296.3 507.17 L298.63 506.22 L300.91 505.23 L303.13 504.21 L305.3 503.14 L307.42 502.04 L309.48 500.9 L311.48 499.72 L313.42 498.51 L315.3 497.26 L317.12 495.98 L318.87 494.67 L320.57 493.32 L322.19 491.94 L323.76 490.53 L325.26 489.08 L326.69 487.61 L328.05 486.11 L329.34 484.58 L330.56 483.02 L331.72 481.43 L332.8 479.82 L333.81 478.18 L334.75 476.51 L335.61 474.82 L336.41 473.1 L337.12 471.36 L337.77 469.59 L338.34 467.8 L338.83 465.97 L339.25 464.12 L339.59 462.23 L339.86 460.3 L340.05 458.33 L340.16 456.27 L340.2 454 L340.2 309 Z" stroke-width="1.45" fill="none"/>
<path d="M127 310 L127 466 L131 466 L131 310 Z" fill="url(#h)" stroke="none"/>
<path d="M209.66 518.64 L206.95 518.17 L204.24 517.65 L201.53 517.1 L198.83 516.5 L196.14 515.87 L193.46 515.19 L190.8 514.48 L188.15 513.73 L185.54 512.94 L182.94 512.12 L180.38 511.26 L177.85 510.36 L175.36 509.43 L172.9 508.47 L170.49 507.48 L168.12 506.46 L165.79 505.4 L163.52 504.32 L161.29 503.21 L159.12 502.07 L157 500.91 L154.94 499.72 L152.95 498.51 L151.01 497.28 L149.13 496.03 L147.33 494.76 L145.59 493.48 L143.91 492.17 L142.31 490.85 L140.79 489.52 L139.33 488.18 L137.95 486.83 L136.65 485.47 L135.43 484.1 L134.28 482.73 L133.22 481.36 L132.23 479.99 L131.33 478.62 L130.52 477.25 L129.78 475.9 L129.13 474.55 L128.57 473.22 L128.09 471.9 L127.7 470.61 L127.39 469.35 L127.17 468.14 L127.04 466.99 L127 466 L131 466 L131.04 466.94 L131.17 468.02 L131.39 469.17 L131.69 470.36 L132.08 471.58 L132.55 472.82 L133.11 474.08 L133.75 475.35 L134.48 476.63 L135.29 477.92 L136.18 479.21 L137.15 480.51 L138.2 481.8 L139.33 483.09 L140.54 484.38 L141.83 485.66 L143.19 486.94 L144.63 488.2 L146.14 489.45 L147.72 490.69 L149.37 491.92 L151.09 493.13 L152.87 494.32 L154.72 495.5 L156.63 496.65 L158.61 497.78 L160.64 498.9 L162.72 499.98 L164.86 501.05 L167.06 502.08 L169.3 503.09 L171.59 504.08 L173.92 505.03 L176.3 505.95 L178.71 506.85 L181.16 507.71 L183.65 508.54 L186.16 509.33 L188.71 510.09 L191.27 510.81 L193.87 511.5 L196.47 512.15 L199.1 512.77 L201.73 513.35 L204.37 513.89 L207.02 514.39 L209.66 514.85 L212.3 515.27 Z" fill="#fff" stroke="none"/>
<path d="M209.66 518.64 L206.95 518.17 L204.24 517.65 L201.53 517.1 L198.83 516.5 L196.14 515.87 L193.46 515.19 L190.8 514.48 L188.15 513.73 L185.54 512.94 L182.94 512.12 L180.38 511.26 L177.85 510.36 L175.36 509.43 L172.9 508.47 L170.49 507.48 L168.12 506.46 L165.79 505.4 L163.52 504.32 L161.29 503.21 L159.12 502.07 L157 500.91 L154.94 499.72 L152.95 498.51 L151.01 497.28 L149.13 496.03 L147.33 494.76 L145.59 493.48 L143.91 492.17 L142.31 490.85 L140.79 489.52 L139.33 488.18 L137.95 486.83 L136.65 485.47 L135.43 484.1 L134.28 482.73 L133.22 481.36 L132.23 479.99 L131.33 478.62 L130.52 477.25 L129.78 475.9 L129.13 474.55 L128.57 473.22 L128.09 471.9 L127.7 470.61 L127.39 469.35 L127.17 468.14 L127.04 466.99 L127 466 L127 310 L131 310 L131 466 L131.04 466.94 L131.17 468.02 L131.39 469.17 L131.69 470.36 L132.08 471.58 L132.55 472.82 L133.11 474.08 L133.75 475.35 L134.48 476.63 L135.29 477.92 L136.18 479.21 L137.15 480.51 L138.2 481.8 L139.33 483.09 L140.54 484.38 L141.83 485.66 L143.19 486.94 L144.63 488.2 L146.14 489.45 L147.72 490.69 L149.37 491.92 L151.09 493.13 L152.87 494.32 L154.72 495.5 L156.63 496.65 L158.61 497.78 L160.64 498.9 L162.72 499.98 L164.86 501.05 L167.06 502.08 L169.3 503.09 L171.59 504.08 L173.92 505.03 L176.3 505.95 L178.71 506.85 L181.16 507.71 L183.65 508.54 L186.16 509.33 L188.71 510.09 L191.27 510.81 L193.87 511.5 L196.47 512.15 L199.1 512.77 L201.73 513.35 L204.37 513.89 L207.02 514.39 L209.66 514.85 L212.3 515.27 Z" stroke-width="1.45" fill="none"/>
<path d="M127 309.5 L127 306 L140.8 291.5 L140.8 297.5 L131 309.5 Z" stroke-width="1.1" fill="url(#h)"/>
<path d="M329.6 292.7 L344.2 307.5 L344.2 309.5 L340.2 309.5 L329.6 298.5 Z" stroke-width="1.1" fill="url(#h2)"/>
<line x1="145" y1="454.5" x2="401" y2="454.5" stroke-width="1.3"/>
<line x1="66" y1="458.5" x2="125" y2="458.5" stroke-width="1"/>
<line x1="145" y1="459.5" x2="230" y2="459.5" stroke-width="0.7" stroke-dasharray="12 2 2 2"/>
<line x1="229.2" y1="262.3" x2="229.2" y2="385.8" stroke-width="1.6"/>
<line x1="242.2" y1="262.3" x2="242.2" y2="385.8" stroke-width="1.6"/>
<line x1="232.5" y1="262.3" x2="232.5" y2="385.8" stroke-width="0.8"/>
<line x1="238.5" y1="262.3" x2="238.5" y2="385.8" stroke-width="0.8"/>
<line x1="235.5" y1="262.3" x2="235.5" y2="470" stroke-width="0.7" stroke-dasharray="10 2 2 2"/>
<rect x="224.2" y="385.8" width="22.6" height="16.5" stroke-width="1.6" fill="none"/>
<path d="M229.2 385.8 L242.2 385.8 L242.2 402.3 L229.2 402.3 Z" stroke-width="1" fill="url(#h3)"/>
<line x1="229.2" y1="402.3" x2="229.2" y2="454.3" stroke-width="1.6"/>
<line x1="242.2" y1="402.3" x2="242.2" y2="454.3" stroke-width="1.6"/>
<path d="M189.6 454.3 V467 H224 Q227.5 467 228 463 V456" stroke-width="1.6" fill="none"/>
<line x1="189.6" y1="456.5" x2="228" y2="456.5" stroke-width="1"/>
<line x1="189.6" y1="458.5" x2="222" y2="458.5" stroke-width="1"/>
<path d="M283 454.3 V467 H252 Q249 467 248.6 463 V456" stroke-width="1.6" fill="none"/>
<line x1="248.6" y1="456.5" x2="283" y2="456.5" stroke-width="1"/>
<line x1="252" y1="459.5" x2="283" y2="459.5" stroke-width="1"/>
<ellipse cx="235.3" cy="460" rx="3.8" ry="3.2" stroke-width="1.6" fill="none"/>
<path d="M227.6 466 V469.7 H246.3 V466" stroke-width="1.6" fill="none"/>
<path d="M232.4 469.7 V471 Q232.4 472.5 234.5 472.5 H238 Q240 472.5 240 471 V469.7" stroke-width="1" fill="none"/>
<line x1="243.5" y1="457" x2="243.5" y2="464.5" stroke-width="0.8"/>
<path d="M243.5 456.8 L244.4 459.3 L242.6 459.3 Z" fill="#000" stroke-width="0.3"/>
<path d="M243.5 464.7 L242.6 462.2 L244.4 462.2 Z" fill="#000" stroke-width="0.3"/>
<rect x="311" y="336" width="5.3" height="13.5" stroke-width="1" fill="none"/>
<rect x="307.5" y="427.5" width="5.2" height="12.8" stroke-width="1" fill="none"/>
<line x1="312.7" y1="427.5" x2="324.5" y2="427.5" stroke-width="0.8"/>
<line x1="312.7" y1="440.5" x2="324.5" y2="440.5" stroke-width="0.8"/>
<line x1="316.3" y1="336.5" x2="324.5" y2="336.5" stroke-width="0.8"/>
<line x1="316.3" y1="349.5" x2="324.5" y2="349.5" stroke-width="0.8"/>
<line x1="329.5" y1="461.5" x2="340.3" y2="461.5" stroke-width="1.1"/>
<line x1="131" y1="460.5" x2="141" y2="460.5" stroke-width="1.1"/>
<path d="M97.19 174.49 L152.61 142.49 L154.41 145.6 L98.99 177.6 Z" stroke-width="1.3" fill="#fff"/>
<line x1="118.5" y1="147.4" x2="121.5" y2="152.6" stroke-width="1.1"/>
<path d="M119.33 153.85 L123.67 151.35 L125.42 154.38 L121.08 156.88 Z" stroke-width="1.1" fill="none"/>
<path d="M118.05 158.63 L128.45 152.63 L130.1 155.49 L119.7 161.49 Z" stroke-width="1.2" fill="none"/>
<line x1="121.08" y1="156.88" x2="122.73" y2="159.74" stroke-width="0.9"/>
<line x1="125.42" y1="154.38" x2="127.07" y2="157.24" stroke-width="0.9"/>
<line x1="124.1" y1="163.1" x2="129.4" y2="172.28" stroke-width="1.2"/>
<line x1="129.3" y1="160.1" x2="134.6" y2="169.28" stroke-width="1.2"/>
<line x1="126.7" y1="161.6" x2="132" y2="170.78" stroke-width="0.9"/>
<path d="M125.07 174.78 L138.93 166.78 L146.18 179.34 L132.32 187.34 Z" stroke-width="1.3" fill="none"/>
<path d="M131.1 178.23 L138.9 173.73 L141.9 178.93 L134.1 183.43 Z" stroke-width="1.1" fill="none"/>
<line x1="131.25" y1="174.68" x2="137" y2="184.64" stroke-width="1"/>
<line x1="135.75" y1="172.08" x2="141.5" y2="182.04" stroke-width="1"/>
<line x1="131.25" y1="174.68" x2="135.75" y2="172.08" stroke-width="1"/>
<line x1="137.86" y1="184.14" x2="145.61" y2="197.56" stroke-width="1.1"/>
<line x1="140.64" y1="182.54" x2="148.39" y2="195.96" stroke-width="1.1"/>
<line x1="139.11" y1="186.31" x2="142.64" y2="186" stroke-width="0.9"/>
<line x1="140.61" y1="188.9" x2="144.14" y2="188.6" stroke-width="0.9"/>
<line x1="142.11" y1="191.5" x2="145.64" y2="191.2" stroke-width="0.9"/>
<line x1="143.61" y1="194.1" x2="147.14" y2="193.8" stroke-width="0.9"/>
<path d="M130.03 216.38 L123.53 205.12 L123.53 205.12 L122.87 203.7 L122.46 202.18 L122.33 200.62 L122.46 199.05 L122.87 197.54 L123.53 196.12 L124.43 194.83 L125.54 193.72 L126.83 192.82 L154.11 177.07 L155.53 176.41 L157.04 176 L158.61 175.87 L160.17 176 L161.68 176.41 L163.11 177.07 L164.39 177.97 L165.5 179.08 L166.4 180.37 L166.4 180.37 L172.9 191.62" stroke-width="1.4" fill="none"/>
<path d="M121.81 221.12 L180.69 187.12 L185.94 196.22 L127.06 230.22 Z" stroke-width="1.4" fill="none"/>
<path d="M143.02 208.88 L137.77 199.78 L154.23 190.28 L159.48 199.38" stroke-width="1.2" fill="none"/>
<line x1="143.1" y1="199.01" x2="147.35" y2="206.38" stroke-width="1.1"/>
<line x1="150.9" y1="194.51" x2="155.15" y2="201.88" stroke-width="1.1"/>
<line x1="140" y1="184.64" x2="156.5" y2="213.22" stroke-width="0.7" stroke-dasharray="7 2 2 2"/>
<path d="M135.28 225.47 L147.28 246.25 L177.48 230.55 L164.73 208.47" stroke-width="1.4" fill="none"/>
<line x1="178.15" y1="200.72" x2="189.97" y2="219.99" stroke-width="1.4"/>
<line x1="147.84" y1="218.22" x2="159.91" y2="240.12" stroke-width="1.2"/>
<line x1="156.5" y1="213.22" x2="174" y2="243.53" stroke-width="0.8" stroke-dasharray="9 2 2 2"/>
<line x1="142.95" y1="233.74" x2="158.54" y2="224.74" stroke-width="1"/>
<line x1="119.2" y1="240.8" x2="137.5" y2="229.5" stroke-width="1.3"/>
<line x1="123.3" y1="258.3" x2="145.8" y2="245.8" stroke-width="1.3"/>
<line x1="120" y1="241.5" x2="126.7" y2="254.5" stroke-width="0.9" stroke-dasharray="3 1.8"/>
<path d="M147.5 245.8 C149.58 245.25 155.13 244.85 160 242.5 C164.87 240.15 171.98 235.32 176.7 231.7 C181.42 228.08 185.8 223.03 188.3 220.8 C190.8 218.57 191.13 218.72 191.7 218.3" stroke-width="1.4" fill="none"/>
<path d="M198.3 216.7 C198.08 218.08 197.83 222.23 197 225 C196.17 227.77 195.58 229.68 193.3 233.3 C191.02 236.92 188.02 243.08 183.3 246.7 C178.58 250.32 171.25 253.2 165 255 C158.75 256.8 149 257.08 145.8 257.5" stroke-width="1.5" fill="none"/>
<line x1="145.8" y1="257.5" x2="145.8" y2="264" stroke-width="1.4"/>
<path d="M145.8 245.8 C145.25 246.78 143.18 249.62 142.5 251.7 C141.82 253.78 141.87 256.25 141.7 258.3 C141.53 260.35 141.53 263.05 141.5 264" stroke-width="1.3" fill="none"/>
<text x="92" y="251" font-size="7" textLength="10.5" lengthAdjust="spacingAndGlyphs">150</text>
<line x1="91" y1="253.5" x2="105" y2="253.5" stroke-width="1"/>
<line x1="105" y1="253.2" x2="119.5" y2="243" stroke-width="1"/>
<text x="108.3" y="157.2" font-size="8" font-style="italic">C</text>
<rect x="286" y="181" width="25.5" height="3.5" stroke-width="1.6" fill="none"/>
<line x1="292.5" y1="184.5" x2="292.5" y2="205" stroke-width="1.6"/>
<line x1="305.3" y1="184.5" x2="305.3" y2="205" stroke-width="1.6"/>
<line x1="298.5" y1="170" x2="298.5" y2="232" stroke-width="0.7" stroke-dasharray="8 2 2 2"/>
<path d="M282 205 H316 V216 Q316 220 313.5 222.5 L311 226 H287 L284.5 222.5 Q282 220 282 216 Z" stroke-width="1.6" fill="#fff"/>
<line x1="282" y1="216.5" x2="316" y2="216.5" stroke-width="1"/>
<line x1="284" y1="222.5" x2="314" y2="222.5" stroke-width="1"/>
<path d="M311 226 L312.8 234 L317 239 L321.3 243.2 L325.2 249 L328 255.2 L329.3 264 L325.8 264 L324.6 256 L321.7 250 L317.7 244.8 L314 241.3 L309.8 236.5 L307.3 226 Z" stroke-width="1.2" fill="url(#h2)"/>
<path d="M290.5 226 C290.5 230.33 290.22 245.72 290.5 252 C290.78 258.28 291.28 260.12 292.2 263.7 C293.12 267.28 294.58 270.25 296 273.5 C297.42 276.75 299.03 280.2 300.7 283.2 C302.37 286.2 304.23 288.78 306 291.5 C307.77 294.22 309.92 296.75 311.3 299.5 C312.68 302.25 313.65 304.92 314.3 308 C314.95 311.08 315.05 316.33 315.2 318 L324 310 C323.72 308 323.38 302 322.3 298 C321.22 294 319.63 290.5 317.5 286 C315.37 281.5 311.67 275.5 309.5 271 C307.33 266.5 305.62 262.83 304.5 259 C303.38 255.17 303.08 253.5 302.8 248 C302.52 242.5 302.8 229.67 302.8 226 Z" stroke-width="0.1" fill="#fff" stroke="none"/>
<path d="M290.5 226 C290.5 230.33 290.22 245.72 290.5 252 C290.78 258.28 291.28 260.12 292.2 263.7 C293.12 267.28 294.58 270.25 296 273.5 C297.42 276.75 299.03 280.2 300.7 283.2 C302.37 286.2 304.23 288.78 306 291.5 C307.77 294.22 309.92 296.75 311.3 299.5 C312.68 302.25 313.65 304.92 314.3 308 C314.95 311.08 315.03 314.33 315.2 318 C315.37 321.67 315.28 307.33 315.3 330 C315.32 352.67 315.3 433.33 315.3 454" stroke-width="1.5" fill="none"/>
<path d="M302.8 226 C302.8 229.67 302.52 242.5 302.8 248 C303.08 253.5 303.38 255.17 304.5 259 C305.62 262.83 307.33 266.5 309.5 271 C311.67 275.5 315.37 281.5 317.5 286 C319.63 290.5 321.22 294 322.3 298 C323.38 302 323.72 308 324 310" stroke-width="1.5" fill="none"/>
<path d="M296.7 226 C296.7 230.17 296.4 245 296.7 251 C297 257 297.45 258.42 298.5 262 C299.55 265.58 301.17 268.67 303 272.5 C304.83 276.33 307.47 281.2 309.5 285 C311.53 288.8 313.7 291.97 315.2 295.3 C316.7 298.63 317.78 301.55 318.5 305 C319.22 308.45 319.32 311.83 319.5 316 C319.68 320.17 319.58 307 319.6 330 C319.62 353 319.6 433.33 319.6 454" stroke-width="0.8" fill="none"/>
<path d="M315.3 454 L315.3 454 L315.23 456.04 L315.03 457.89 L314.69 459.66 L314.22 461.38 L313.62 463.06 L312.88 464.7 L312.02 466.31 L311.02 467.87 L309.89 469.41 L308.64 470.9 L307.26 472.36 L305.76 473.78 L304.13 475.15 L302.39 476.49 L300.53 477.78 L298.55 479.02 L296.47 480.22 L294.27 481.38 L291.97 482.48 L289.57 483.53 L287.07 484.53 L284.47 485.47 L281.77 486.36 L278.99 487.19 L276.12 487.97 L273.16 488.69 L270.13 489.35 L267.01 489.94 L263.82 490.48 L260.55 490.96 L257.2 491.37 L253.78 491.72 L246 498.5" stroke-width="1.4" fill="none"/>
<path d="M319.6 454 L319.6 454 L319.54 456.18 L319.34 458.15 L319.03 460.05 L318.58 461.89 L318.01 463.69 L317.31 465.44 L316.48 467.17 L315.54 468.85 L314.47 470.5 L313.27 472.11 L311.96 473.68 L310.53 475.22 L308.99 476.71 L307.33 478.16 L305.55 479.57 L303.67 480.94 L301.68 482.25 L299.58 483.53 L297.38 484.75 L295.09 485.92 L292.69 487.04 L290.2 488.11 L287.61 489.13 L284.94 490.09 L282.18 490.99 L279.34 491.83 L276.41 492.62 L273.41 493.35 L270.33 494.01 L267.17 494.62 L263.95 495.16 L260.65 495.64" stroke-width="0.8" fill="none" stroke-dasharray="9 2 2 2"/>
<line x1="319.5" y1="251" x2="319.5" y2="285" stroke-width="0.8"/>
<path d="M319.5 264.3 L318.6 259.3 L320.4 259.3 Z" fill="#000" stroke-width="0.3"/>
<path d="M319.5 276.6 L320.4 281.6 L318.6 281.6 Z" fill="#000" stroke-width="0.3"/>
<path d="M230 505 H234.3 V519.5 H230 Z" stroke-width="1.4" fill="url(#h)"/>
<path d="M239.9 505 H244.2 V519.5 H239.9 Z" stroke-width="1.4" fill="url(#h)"/>
<line x1="230" y1="519.5" x2="230" y2="524.5" stroke-width="1.6"/>
<line x1="244.2" y1="519.5" x2="244.2" y2="524.5" stroke-width="1.6"/>
<line x1="234.5" y1="519.5" x2="234.5" y2="524.5" stroke-width="0.8"/>
<line x1="240.5" y1="519.5" x2="240.5" y2="524.5" stroke-width="0.8"/>
<rect x="224.6" y="526.5" width="25.4" height="4.1" stroke-width="1.6" fill="#fff"/>
<line x1="230" y1="524.5" x2="244.2" y2="524.5" stroke-width="1"/>
<line x1="237.5" y1="498" x2="237.5" y2="538" stroke-width="0.7" stroke-dasharray="6 2 2 2"/>
<path d="M216 519.5 L229.5 505.5" stroke-width="1.6" fill="none"/>
<path d="M212.5 517 L226.5 503.5" stroke-width="1" fill="none"/>
<path d="M244.5 505.5 L249.5 509.5 L256.5 517.5 L261 519.5" stroke-width="1.6" fill="none"/>
<path d="M248 503.5 L253 508 L259.5 515 L263.5 516" stroke-width="1" fill="none"/>
<path d="M195 510.5 H199 V537.5 H195 Z" stroke-width="1.4" fill="url(#h)"/>
<path d="M205.3 512.5 H209.3 V537.5 H205.3 Z" stroke-width="1.4" fill="url(#h)"/>
<rect x="190.5" y="537.5" width="22" height="3.5" stroke-width="1.6" fill="#fff"/>
<line x1="202.5" y1="506" x2="202.5" y2="553" stroke-width="0.7" stroke-dasharray="8 2 2 2"/>
<path d="M123.6 310 H127 V351 H123.6 Z" stroke-width="1" fill="url(#h)"/>
<path d="M124 310 L94 339 L94 345.6" stroke-width="1.6" fill="none"/>
<rect x="93" y="345.6" width="16" height="3" stroke-width="1.6" fill="none"/>
<line x1="109" y1="346" x2="123.6" y2="346" stroke-width="1.6"/>
<line x1="100.5" y1="342" x2="100.5" y2="354" stroke-width="0.8"/>
<line x1="80" y1="348.5" x2="93" y2="348.5" stroke-width="0.8" stroke-dasharray="6 2"/>
<line x1="344.2" y1="311" x2="357.5" y2="311" stroke-width="1.6"/>
<line x1="344.2" y1="319" x2="357.5" y2="319" stroke-width="1.6"/>
<rect x="359" y="304" width="3.7" height="21" stroke-width="1.6" fill="#fff"/>
<line x1="357.5" y1="309" x2="357.5" y2="321" stroke-width="1"/>
<path d="M344.2 309.5 L349.5 309.5 L349.5 311 L344.2 311 Z" stroke-width="0.8" fill="url(#h2)"/>
<rect x="344.4" y="311" width="7.6" height="8" stroke-width="1" fill="none"/>
<line x1="346.5" y1="311" x2="346.5" y2="319" stroke-width="0.8"/>
<line x1="349.5" y1="311" x2="349.5" y2="319" stroke-width="0.8"/>
<line x1="336" y1="315.5" x2="372" y2="315.5" stroke-width="0.7" stroke-dasharray="6 2 2 2"/>
<line x1="256.7" y1="55.5" x2="426.7" y2="55.5" stroke-width="1.1"/>
<line x1="277.5" y1="55" x2="277.5" y2="210" stroke-width="1.1"/>
<path d="M277.5 210 L276.25 202.8 L278.75 202.8 Z" fill="#000" stroke-width="0.3"/>
<line x1="275" y1="210.5" x2="282" y2="210.5" stroke-width="0.8"/>
<text x="275.2" y="137.5" font-size="7.8" text-anchor="middle" transform="rotate(-90 275.2 137.5)" textLength="15" lengthAdjust="spacingAndGlyphs">1157</text>
<line x1="415.5" y1="55" x2="415.5" y2="541" stroke-width="1.1"/>
<path d="M415.5 55 L416.75 62.2 L414.25 62.2 Z" fill="#000" stroke-width="0.3"/>
<path d="M415.5 541 L414.25 533.8 L416.75 533.8 Z" fill="#000" stroke-width="0.3"/>
<text x="413.3" y="354" font-size="7.8" text-anchor="middle" transform="rotate(-90 413.3 354)" textLength="21" lengthAdjust="spacingAndGlyphs">~3600</text>
<text x="284" y="155" font-size="7.8" textLength="34" lengthAdjust="spacingAndGlyphs">φ45×3.5</text>
<line x1="283" y1="156.5" x2="327.5" y2="156.5" stroke-width="1.1"/>
<line x1="290" y1="156.3" x2="295.5" y2="180" stroke-width="1.1"/>
<text x="305" y="177.2" font-size="6.5">9</text>
<line x1="307" y1="178.5" x2="355" y2="178.5" stroke-width="1.1"/>
<line x1="281" y1="190.5" x2="292.5" y2="190.5" stroke-width="1.1"/>
<path d="M292.5 190.5 L287 191.5 L287 189.5 Z" fill="#000" stroke-width="0.3"/>
<line x1="305.3" y1="190.5" x2="322" y2="190.5" stroke-width="1.1"/>
<path d="M305.3 190.5 L310.8 189.5 L310.8 191.5 Z" fill="#000" stroke-width="0.3"/>
<line x1="347.5" y1="178" x2="347.5" y2="229" stroke-width="1.1"/>
<path d="M347.5 178 L348.75 185.2 L346.25 185.2 Z" fill="#000" stroke-width="0.3"/>
<path d="M347.5 210 L346.25 202.8 L348.75 202.8 Z" fill="#000" stroke-width="0.3"/>
<path d="M347.5 210 L348.75 217.2 L346.25 217.2 Z" fill="#000" stroke-width="0.3"/>
<path d="M347.5 229 L346.25 221.8 L348.75 221.8 Z" fill="#000" stroke-width="0.3"/>
<text x="346" y="194" font-size="7.8" text-anchor="middle" transform="rotate(-90 346 194)" textLength="11.5" lengthAdjust="spacingAndGlyphs">200</text>
<text x="346" y="220" font-size="7.8" text-anchor="middle" transform="rotate(-90 346 220)" textLength="11.5" lengthAdjust="spacingAndGlyphs">150</text>
<line x1="275" y1="210.5" x2="402" y2="210.5" stroke-width="0.8" stroke-dasharray="16 2.5 3 2.5"/>
<line x1="305" y1="229.5" x2="355" y2="229.5" stroke-width="1.1"/>
<line x1="396.5" y1="210.3" x2="396.5" y2="270" stroke-width="1.1"/>
<path d="M396.5 210.3 L397.75 217.5 L395.25 217.5 Z" fill="#000" stroke-width="0.3"/>
<path d="M396.5 270 L395.25 262.8 L397.75 262.8 Z" fill="#000" stroke-width="0.3"/>
<text x="394.2" y="242.5" font-size="7.8" text-anchor="middle" transform="rotate(-90 394.2 242.5)" textLength="12" lengthAdjust="spacingAndGlyphs">440</text>
<line x1="344.3" y1="270.5" x2="406" y2="270.5" stroke-width="1.1"/>
<line x1="395.5" y1="270" x2="395.5" y2="454.3" stroke-width="1.1"/>
<path d="M395.5 270 L396.75 277.2 L394.25 277.2 Z" fill="#000" stroke-width="0.3"/>
<path d="M395.5 454.3 L394.25 447.1 L396.75 447.1 Z" fill="#000" stroke-width="0.3"/>
<text x="393.5" y="361" font-size="7.8" text-anchor="middle" transform="rotate(-90 393.5 361)" textLength="16" lengthAdjust="spacingAndGlyphs">1400</text>
<line x1="374.5" y1="270" x2="374.5" y2="314.5" stroke-width="1.1"/>
<path d="M374.5 270 L375.5 275.5 L373.5 275.5 Z" fill="#000" stroke-width="0.3"/>
<path d="M374.5 292.7 L373.5 287.2 L375.5 287.2 Z" fill="#000" stroke-width="0.3"/>
<path d="M374.5 292.7 L375.5 298.2 L373.5 298.2 Z" fill="#000" stroke-width="0.3"/>
<path d="M374.5 314.5 L373.5 309 L375.5 309 Z" fill="#000" stroke-width="0.3"/>
<text x="371.5" y="281.5" font-size="7.8" text-anchor="middle" transform="rotate(-90 371.5 281.5)" textLength="11.5" lengthAdjust="spacingAndGlyphs">150</text>
<text x="371.5" y="304" font-size="7.8" text-anchor="middle" transform="rotate(-90 371.5 304)" textLength="11.5" lengthAdjust="spacingAndGlyphs">150</text>
<line x1="329.5" y1="292.5" x2="376" y2="292.5" stroke-width="1.1"/>
<text x="378.5" y="318" font-size="6" font-style="italic">p</text>
<text x="347.5" y="335" font-size="7.8" textLength="10.5" lengthAdjust="spacingAndGlyphs">150</text>
<line x1="344.3" y1="337.5" x2="362.7" y2="337.5" stroke-width="1.1"/>
<path d="M344.3 337.5 L351.5 336.25 L351.5 338.75 Z" fill="#000" stroke-width="0.3"/>
<path d="M362.7 337.5 L355.5 338.75 L355.5 336.25 Z" fill="#000" stroke-width="0.3"/>
<line x1="362.5" y1="325" x2="362.5" y2="346" stroke-width="0.8"/>
<line x1="362.7" y1="320" x2="381" y2="337.5" stroke-width="1.1"/>
<line x1="381.5" y1="337.5" x2="381.5" y2="371" stroke-width="1.1"/>
<text x="379.3" y="354.5" font-size="7.8" text-anchor="middle" transform="rotate(-90 379.3 354.5)" textLength="30" lengthAdjust="spacingAndGlyphs">φ32×3.5</text>
<line x1="395.5" y1="454.3" x2="395.5" y2="504" stroke-width="1.1"/>
<path d="M395.5 454.3 L396.75 461.5 L394.25 461.5 Z" fill="#000" stroke-width="0.3"/>
<path d="M395.5 504 L394.25 496.8 L396.75 496.8 Z" fill="#000" stroke-width="0.3"/>
<text x="394" y="479" font-size="7.8" text-anchor="middle" transform="rotate(-90 394 479)" textLength="11.5" lengthAdjust="spacingAndGlyphs">390</text>
<line x1="305" y1="504.5" x2="406" y2="504.5" stroke-width="1.1"/>
<line x1="152" y1="541.5" x2="215" y2="541.5" stroke-width="0.9" stroke-dasharray="22 2.5 3 2.5"/>
<line x1="215" y1="541.5" x2="424" y2="541.5" stroke-width="1"/>
<line x1="304.5" y1="317.5" x2="304.5" y2="470" stroke-width="1.1"/>
<path d="M304.5 336 L303.6 331.5 L305.4 331.5 Z" fill="#000" stroke-width="0.3"/>
<path d="M304.5 349.5 L305.4 354 L303.6 354 Z" fill="#000" stroke-width="0.3"/>
<path d="M304.5 427.5 L303.6 423 L305.4 423 Z" fill="#000" stroke-width="0.3"/>
<path d="M304.5 440.3 L305.4 444.8 L303.6 444.8 Z" fill="#000" stroke-width="0.3"/>
<path d="M304.5 440.3 L303.6 435.8 L305.4 435.8 Z" fill="#000" stroke-width="0.3"/>
<path d="M304.5 454.3 L303.6 449.8 L305.4 449.8 Z" fill="#000" stroke-width="0.3"/>
<path d="M304.5 454.3 L305.4 458.8 L303.6 458.8 Z" fill="#000" stroke-width="0.3"/>
<path d="M304.5 466 L303.6 461.5 L305.4 461.5 Z" fill="#000" stroke-width="0.3"/>
<line x1="304" y1="336.5" x2="311" y2="336.5" stroke-width="0.8"/>
<line x1="304" y1="349.5" x2="311" y2="349.5" stroke-width="0.8"/>
<line x1="304" y1="427.5" x2="307.5" y2="427.5" stroke-width="0.8"/>
<line x1="304" y1="440.5" x2="307.5" y2="440.5" stroke-width="0.8"/>
<text x="302.8" y="341.5" font-size="7.8" text-anchor="middle" transform="rotate(-90 302.8 341.5)" textLength="8" lengthAdjust="spacingAndGlyphs">50</text>
<text x="302.8" y="396" font-size="7.8" text-anchor="middle" transform="rotate(-90 302.8 396)" textLength="12" lengthAdjust="spacingAndGlyphs">650</text>
<text x="302.8" y="433" font-size="7.4" text-anchor="middle" transform="rotate(-90 302.8 433)" textLength="7.5" lengthAdjust="spacingAndGlyphs">25</text>
<text x="302.8" y="447" font-size="7.4" text-anchor="middle" transform="rotate(-90 302.8 447)" textLength="10.5" lengthAdjust="spacingAndGlyphs">100</text>
<text x="302.8" y="464.5" font-size="7.4" text-anchor="middle" transform="rotate(-90 302.8 464.5)" textLength="8" lengthAdjust="spacingAndGlyphs">40</text>
<line x1="296" y1="466.5" x2="306" y2="466.5" stroke-width="0.8"/>
<line x1="61" y1="293.5" x2="133" y2="293.5" stroke-width="1.1"/>
<line x1="65.5" y1="293" x2="65.5" y2="514" stroke-width="1.1"/>
<path d="M65.5 293 L66.75 300.2 L64.25 300.2 Z" fill="#000" stroke-width="0.3"/>
<path d="M65.5 514 L64.25 506.8 L66.75 506.8 Z" fill="#000" stroke-width="0.3"/>
<text x="63.5" y="393" font-size="7.8" text-anchor="middle" transform="rotate(-90 63.5 393)" textLength="16" lengthAdjust="spacingAndGlyphs">1290</text>
<line x1="65.5" y1="458.5" x2="65.5" y2="458.5" stroke-width="1.1"/>
<path d="M65.5 458.5 L66.75 465.7 L64.25 465.7 Z" fill="#000" stroke-width="0.3"/>
<text x="63.8" y="482.5" font-size="7.8" text-anchor="middle" transform="rotate(-90 63.8 482.5)" textLength="12" lengthAdjust="spacingAndGlyphs">400</text>
<line x1="81.5" y1="293" x2="81.5" y2="348.4" stroke-width="1.1"/>
<path d="M81.5 293 L82.75 300.2 L80.25 300.2 Z" fill="#000" stroke-width="0.3"/>
<path d="M81.5 348.4 L80.25 341.2 L82.75 341.2 Z" fill="#000" stroke-width="0.3"/>
<text x="79" y="323" font-size="7.8" text-anchor="middle" transform="rotate(-90 79 323)" textLength="12.5" lengthAdjust="spacingAndGlyphs">400</text>
<text x="87" y="315" font-size="8" textLength="11" lengthAdjust="spacingAndGlyphs" font-style="italic">45°</text>
<path d="M95.6 293 A46 46 0 0 0 109 325.5" stroke-width="1.1" fill="none"/>
<path d="M109 325.5 L104.59 322.98 L105.75 321.6 Z" fill="#000" stroke-width="0.3"/>
<text x="159" y="326.6" font-size="7.8" textLength="13.5" lengthAdjust="spacingAndGlyphs">R30</text>
<line x1="155" y1="327.5" x2="173" y2="327.5" stroke-width="1.1"/>
<path d="M131 309 L152.5 325.7 L155 327.7" stroke-width="1.1" fill="none"/>
<text x="196" y="326.8" font-size="6.6" textLength="30.5" lengthAdjust="spacingAndGlyphs">85转/ 分</text>
<line x1="213.7" y1="308.7" x2="227.5" y2="313.7" stroke-width="0.95"/>
<line x1="216.5" y1="330.3" x2="248.5" y2="320.8" stroke-width="0.95"/>
<line x1="248.5" y1="320.8" x2="239.5" y2="323.8" stroke-width="0.95"/>
<text x="146" y="357" font-size="7.8" textLength="7" lengthAdjust="spacingAndGlyphs">10</text>
<line x1="121" y1="358.5" x2="141" y2="358.5" stroke-width="1.1"/>
<path d="M141 358.5 L135.5 359.5 L135.5 357.5 Z" fill="#000" stroke-width="0.3"/>
<path d="M145 358.5 L150.5 357.5 L150.5 359.5 Z" fill="#000" stroke-width="0.3"/>
<line x1="145" y1="358.5" x2="210" y2="358.5" stroke-width="1.1"/>
<line x1="210" y1="358.5" x2="248" y2="358.5" stroke-width="0.8" stroke-dasharray="14 2.5 3 2.5"/>
<line x1="248" y1="358.5" x2="324.5" y2="358.5" stroke-width="1.1"/>
<path d="M324.5 358.5 L317.3 359.75 L317.3 357.25 Z" fill="#000" stroke-width="0.3"/>
<text x="249" y="357" font-size="7.8" textLength="20" lengthAdjust="spacingAndGlyphs">φ1400</text>
<text x="120" y="370" font-size="7.8">6</text>
<line x1="113" y1="372.5" x2="127" y2="372.5" stroke-width="1.1"/>
<path d="M127 372.5 L121.5 373.5 L121.5 371.5 Z" fill="#000" stroke-width="0.3"/>
<path d="M131 372.5 L136.5 371.5 L136.5 373.5 Z" fill="#000" stroke-width="0.3"/>
<line x1="131" y1="372.5" x2="139" y2="372.5" stroke-width="1.1"/>
<line x1="148" y1="372.5" x2="180" y2="372.5" stroke-width="0.8" stroke-dasharray="14 2.5 3 2.5"/>
<line x1="246" y1="372.5" x2="340" y2="372.5" stroke-width="1.1"/>
<path d="M340 372.5 L332.8 373.75 L332.8 371.25 Z" fill="#000" stroke-width="0.3"/>
<text x="262.5" y="372" font-size="7.8" textLength="20" lengthAdjust="spacingAndGlyphs">φ1500</text>
<text x="251" y="285.2" font-size="7.8" textLength="14.5" lengthAdjust="spacingAndGlyphs">φ65</text>
<line x1="210" y1="287.5" x2="229.2" y2="287.5" stroke-width="1.1"/>
<path d="M229.2 287.5 L223.7 288.5 L223.7 286.5 Z" fill="#000" stroke-width="0.3"/>
<path d="M242.2 287.5 L247.7 286.5 L247.7 288.5 Z" fill="#000" stroke-width="0.3"/>
<line x1="242.2" y1="287.5" x2="251" y2="287.5" stroke-width="1.1"/>
<text x="280" y="345.5" font-size="8" font-style="italic">A</text>
<line x1="287.7" y1="341.5" x2="293.5" y2="341.5" stroke-width="1"/>
<line x1="287.5" y1="341.6" x2="287.5" y2="352" stroke-width="1"/>
<path d="M287.5 354 L286.5 348.5 L288.5 348.5 Z" fill="#000" stroke-width="0.3"/>
<text x="332" y="342" font-size="8" font-style="italic">A</text>
<line x1="331" y1="343.5" x2="336.3" y2="343.5" stroke-width="1"/>
<line x1="336.5" y1="343.6" x2="336.5" y2="356" stroke-width="1"/>
<path d="M336.5 357 L335.5 351.5 L337.5 351.5 Z" fill="#000" stroke-width="0.3"/>
<text x="251" y="239" font-size="7.8" textLength="23" lengthAdjust="spacingAndGlyphs">108×4</text>
<line x1="250" y1="241.5" x2="275" y2="241.5" stroke-width="1.1"/>
<line x1="189.5" y1="467" x2="189.5" y2="483" stroke-width="0.8"/>
<line x1="283.5" y1="467" x2="283.5" y2="483" stroke-width="0.8"/>
<line x1="189.6" y1="477.5" x2="283" y2="477.5" stroke-width="1.1"/>
<path d="M189.6 477.5 L196.8 476.25 L196.8 478.75 Z" fill="#000" stroke-width="0.3"/>
<path d="M283 477.5 L275.8 478.75 L275.8 476.25 Z" fill="#000" stroke-width="0.3"/>
<rect x="219" y="473.5" width="13" height="7.5" fill="#fff" stroke="none"/>
<text x="220" y="480.2" font-size="7.8" textLength="11" lengthAdjust="spacingAndGlyphs">700</text>
<text x="248" y="485.6" font-size="7.8" textLength="17" lengthAdjust="spacingAndGlyphs">φ130</text>
<line x1="208" y1="487.5" x2="230" y2="487.5" stroke-width="1.1"/>
<path d="M230 487.5 L224.5 488.5 L224.5 486.5 Z" fill="#000" stroke-width="0.3"/>
<path d="M244.2 487.5 L249.7 486.5 L249.7 488.5 Z" fill="#000" stroke-width="0.3"/>
<line x1="244.2" y1="487.5" x2="266" y2="487.5" stroke-width="1.1"/>
<line x1="230.5" y1="483" x2="230.5" y2="505" stroke-width="0.8"/>
<line x1="244.5" y1="483" x2="244.5" y2="505" stroke-width="0.8"/>
<text x="281" y="522.6" font-size="7.8" textLength="31" lengthAdjust="spacingAndGlyphs">φ45×3.5</text>
<line x1="245" y1="524.5" x2="312" y2="524.5" stroke-width="1.1"/>
<path d="M245 524.5 L250.5 523.5 L250.5 525.5 Z" fill="#000" stroke-width="0.3"/>
<line x1="61" y1="514.5" x2="182" y2="514.5" stroke-width="1.1"/>
<line x1="156.5" y1="514" x2="156.5" y2="541.3" stroke-width="1.1"/>
<path d="M156.5 514 L157.75 521.2 L155.25 521.2 Z" fill="#000" stroke-width="0.3"/>
<path d="M156.5 541.3 L155.25 534.1 L157.75 534.1 Z" fill="#000" stroke-width="0.3"/>
<text x="154" y="527.5" font-size="7.8" text-anchor="middle" transform="rotate(-90 154 527.5)" textLength="11.5" lengthAdjust="spacingAndGlyphs">150</text>
<text x="161" y="527.7" font-size="7.8" textLength="31.5" lengthAdjust="spacingAndGlyphs">φ32×3.5</text>
<line x1="160" y1="529.5" x2="195" y2="529.5" stroke-width="1.1"/>
<line x1="237" y1="505" x2="180" y2="559" stroke-width="1.1"/>
<line x1="237" y1="505" x2="293" y2="552.5" stroke-width="1.1"/>
<path d="M186.5 553 A70 70 0 0 0 288 548" stroke-width="1.1" fill="none"/>
<path d="M186.5 553 L191.1 556.18 L189.68 557.6 Z" fill="#000" stroke-width="0.3"/>
<path d="M288 548 L284.82 552.6 L283.4 551.18 Z" fill="#000" stroke-width="0.3"/>
<rect x="230" y="559" width="13" height="8" fill="#fff" stroke="none"/>
<text x="231" y="566.5" font-size="7.8" textLength="10.5" lengthAdjust="spacingAndGlyphs">90°</text>
<text x="239" y="538" font-size="6.5" font-style="italic">i</text>
<text x="204" y="552" font-size="6.5" font-style="italic">j</text>
<line x1="356.5" y1="296.3" x2="356.5" y2="305" stroke-width="0.9"/>
<path d="M356.5 308.6 L355.6 304.1 L357.4 304.1 Z" fill="#000" stroke-width="0.3"/>
<line x1="356.5" y1="324" x2="356.5" y2="329" stroke-width="0.9"/>
<path d="M356.5 320.4 L357.4 324.9 L355.6 324.9 Z" fill="#000" stroke-width="0.3"/>
<text x="441" y="75.1" font-size="7.6" textLength="7.5" lengthAdjust="spacingAndGlyphs" font-weight="bold">35</text>
<line x1="439" y1="76.5" x2="451" y2="76.5" stroke-width="1.1"/>
<line x1="451" y1="76.4" x2="480" y2="105.5" stroke-width="1.1"/>
<text x="441" y="90.1" font-size="7.6" textLength="7.5" lengthAdjust="spacingAndGlyphs" font-weight="bold">36</text>
<line x1="439" y1="91.5" x2="451" y2="91.5" stroke-width="1.1"/>
<line x1="451" y1="91.4" x2="487.5" y2="128.6" stroke-width="1.1"/>
<text x="431.5" y="106" font-size="7.6" textLength="7.5" lengthAdjust="spacingAndGlyphs" font-weight="bold">37</text>
<line x1="429.5" y1="107.5" x2="441" y2="107.5" stroke-width="1.1"/>
<line x1="429.5" y1="107.3" x2="308.7" y2="176.7" stroke-width="1.1"/>
<text x="431.5" y="122" font-size="7.6" textLength="7.5" lengthAdjust="spacingAndGlyphs" font-weight="bold">38</text>
<line x1="429.5" y1="123.5" x2="441" y2="123.5" stroke-width="1.1"/>
<line x1="429.5" y1="123.3" x2="314" y2="203.3" stroke-width="1.1"/>
<text x="431.5" y="138" font-size="7.6" textLength="7.5" lengthAdjust="spacingAndGlyphs" font-weight="bold">39</text>
<line x1="429.5" y1="139.5" x2="441" y2="139.5" stroke-width="1.1"/>
<line x1="429.5" y1="139.3" x2="315.3" y2="206" stroke-width="1.1"/>
<text x="431.5" y="152.2" font-size="7.6" textLength="7.5" lengthAdjust="spacingAndGlyphs" font-weight="bold">40</text>
<line x1="429.5" y1="153.5" x2="441" y2="153.5" stroke-width="1.1"/>
<line x1="429.5" y1="153.5" x2="316.7" y2="208.7" stroke-width="1.1"/>
<text x="431.5" y="167.9" font-size="7.6" textLength="7.5" lengthAdjust="spacingAndGlyphs" font-weight="bold">41</text>
<line x1="429.5" y1="169.5" x2="441" y2="169.5" stroke-width="1.1"/>
<text x="431.5" y="183.4" font-size="7.6" textLength="7.5" lengthAdjust="spacingAndGlyphs" font-weight="bold">42</text>
<line x1="429.5" y1="184.5" x2="441" y2="184.5" stroke-width="1.1"/>
<line x1="429.5" y1="184.7" x2="316.7" y2="212.7" stroke-width="1.1"/>
<text x="431.5" y="199.4" font-size="7.6" textLength="7.5" lengthAdjust="spacingAndGlyphs" font-weight="bold">43</text>
<line x1="429.5" y1="200.5" x2="441" y2="200.5" stroke-width="1.1"/>
<line x1="429.5" y1="200.7" x2="315.3" y2="220.7" stroke-width="1.1"/>
<line x1="429.5" y1="169.2" x2="429.5" y2="184.7" stroke-width="1.1"/>
<text x="437.5" y="237" font-size="7.6" textLength="7.5" lengthAdjust="spacingAndGlyphs" font-weight="bold">44</text>
<line x1="435.5" y1="238.5" x2="447.5" y2="238.5" stroke-width="1.1"/>
<line x1="447.5" y1="238.3" x2="483" y2="235.5" stroke-width="0.9" stroke-dasharray="5 1.5 1.5 1.5"/>
<text x="484.5" y="66" font-size="7.6" textLength="19.5" lengthAdjust="spacingAndGlyphs" font-style="italic" font-weight="bold">B—B</text>
<line x1="481.5" y1="67.5" x2="507" y2="67.5" stroke-width="1.1"/>
<text x="482.5" y="76" font-size="7.2" textLength="21.5" lengthAdjust="spacingAndGlyphs" font-weight="bold">M1:5</text>
<line x1="491.5" y1="95" x2="491.5" y2="179" stroke-width="0.7" stroke-dasharray="12 2 2 2"/>
<rect x="475" y="103.4" width="32" height="4.8" stroke-width="1.5" fill="none"/>
<path d="M456 153.5 C457.17 152.58 460.33 149.83 463 148 C465.67 146.17 468.77 144.25 472 142.5 C475.23 140.75 477.82 139.58 482.4 137.5 C486.98 135.42 494.9 131.92 499.5 130 C504.1 128.08 506.58 127.25 510 126 C513.42 124.75 516.75 123.75 520 122.5 C523.25 121.25 527.92 119.17 529.5 118.5 L529 122.5 C527.67 123.33 524 126.08 521 127.5 C518 128.92 514.58 129.75 511 131 C507.42 132.25 504.27 133.07 499.5 135 C494.73 136.93 486.57 140.6 482.4 142.6 C478.23 144.6 477.32 145.35 474.5 147 C471.68 148.65 468.17 150.67 465.5 152.5 C462.83 154.33 459.67 157.08 458.5 158 Z" stroke-width="1.1" fill="url(#h)"/>
<path d="M456 155 C456.83 156.33 459 160.75 461 163 C463 165.25 465.33 167 468 168.5 C470.67 170 473.67 171.37 477 172 C480.33 172.63 484.33 172.8 488 172.3 C491.67 171.8 495.67 170.55 499 169 C502.33 167.45 505.17 165.67 508 163 C510.83 160.33 513.5 157 516 153 C518.5 149 520.75 144.5 523 139 C525.25 133.5 528.42 123.17 529.5 120" stroke-width="1.3" fill="none"/>
<path d="M482.4 108.2 V168.5 L499.5 152.5 V108.2 Z" stroke-width="1.5" fill="#fff"/>
<path d="M482.4 120.5 L487.5 128 L487.5 164 L482.4 168.5 Z" stroke-width="1" fill="url(#h)"/>
<path d="M499.5 120.5 L495 128 L495 157 L499.5 152.5 Z" stroke-width="1" fill="url(#h)"/>
<line x1="487.5" y1="120.5" x2="487.5" y2="128" stroke-width="1"/>
<line x1="495.5" y1="120.5" x2="495.5" y2="128" stroke-width="1"/>
<line x1="511" y1="104.5" x2="517" y2="104.5" stroke-width="1.1"/>
<line x1="521" y1="104.5" x2="574.5" y2="104.5" stroke-width="1.1"/>
<line x1="499.5" y1="135.5" x2="550.5" y2="135.5" stroke-width="1.1"/>
<line x1="490.5" y1="166.5" x2="500" y2="166.5" stroke-width="1.1"/>
<line x1="504" y1="166.5" x2="574.5" y2="166.5" stroke-width="1.1"/>
<line x1="543.5" y1="104" x2="543.5" y2="135" stroke-width="1.1"/>
<path d="M543.5 104 L544.75 111.2 L542.25 111.2 Z" fill="#000" stroke-width="0.3"/>
<path d="M543.5 135 L542.25 127.8 L544.75 127.8 Z" fill="#000" stroke-width="0.3"/>
<text x="541.6" y="119.6" font-size="7.8" text-anchor="middle" transform="rotate(-90 541.6 119.6)" textLength="11.5" lengthAdjust="spacingAndGlyphs">100</text>
<line x1="567.5" y1="104" x2="567.5" y2="166.5" stroke-width="1.1"/>
<path d="M567.5 104 L568.75 111.2 L566.25 111.2 Z" fill="#000" stroke-width="0.3"/>
<path d="M567.5 166.5 L566.25 159.3 L568.75 159.3 Z" fill="#000" stroke-width="0.3"/>
<text x="565" y="133" font-size="7.8" text-anchor="middle" transform="rotate(-90 565 133)" textLength="11.5" lengthAdjust="spacingAndGlyphs">250</text>
<text x="509.5" y="150.3" font-size="7.8" textLength="32" lengthAdjust="spacingAndGlyphs">φ45×3.5</text>
<line x1="477" y1="152.5" x2="482" y2="152.5" stroke-width="0.8"/>
<line x1="499.5" y1="152.5" x2="550.5" y2="152.5" stroke-width="1.1"/>
<text x="479.5" y="207.3" font-size="7.6" textLength="21" lengthAdjust="spacingAndGlyphs" font-weight="bold">C—C</text>
<line x1="476.5" y1="209.5" x2="503.5" y2="209.5" stroke-width="1.1"/>
<text x="484" y="217.5" font-size="7.2" textLength="13.5" lengthAdjust="spacingAndGlyphs" font-weight="bold">1:5</text>
<line x1="489.5" y1="219" x2="489.5" y2="286.5" stroke-width="0.7" stroke-dasharray="12 2 2 2"/>
<rect x="478" y="226.6" width="23" height="5.1" stroke-width="1.5" fill="none"/>
<path d="M468 252.5 C469.67 252.75 474.5 253.25 478 254 C481.5 254.75 485.33 255.75 489 257 C492.67 258.25 496.83 259.92 500 261.5 C503.17 263.08 505.58 264.92 508 266.5 C510.42 268.08 513.42 270.25 514.5 271 L513 275.5 C512 274.67 509.33 272.17 507 270.5 C504.67 268.83 502.17 267.08 499 265.5 C495.83 263.92 491.67 262.25 488 261 C484.33 259.75 480.42 258.75 477 258 C473.58 257.25 469.08 256.75 467.5 256.5 Z" stroke-width="1.1" fill="url(#h)"/>
<path d="M467.5 256.5 C467.92 257.75 468.58 261.42 470 264 C471.42 266.58 473.5 269.67 476 272 C478.5 274.33 482 276.75 485 278 C488 279.25 491 279.42 494 279.5 C497 279.58 500.33 279 503 278.5 C505.67 278 508.08 277.58 510 276.5 C511.92 275.42 513.75 272.75 514.5 272" stroke-width="1.3" fill="none"/>
<path d="M482.4 231.7 V259.5 L495 263 V231.7 Z" stroke-width="1.5" fill="#fff"/>
<path d="M482.4 247.5 L486 247.5 L486 260.5 L482.4 259.5 Z" stroke-width="1" fill="url(#h)"/>
<path d="M495 247.5 L491.5 247.5 L491.5 262 L495 263 Z" stroke-width="1" fill="url(#h)"/>
<line x1="501" y1="227.5" x2="568.5" y2="227.5" stroke-width="1.1"/>
<line x1="495" y1="258.5" x2="568.5" y2="258.5" stroke-width="1.1"/>
<line x1="562.5" y1="227" x2="562.5" y2="258.7" stroke-width="1.1"/>
<path d="M562.5 227 L563.75 234.2 L561.25 234.2 Z" fill="#000" stroke-width="0.3"/>
<path d="M562.5 258.7 L561.25 251.5 L563.75 251.5 Z" fill="#000" stroke-width="0.3"/>
<text x="560.5" y="243" font-size="7.8" text-anchor="middle" transform="rotate(-90 560.5 243)" textLength="11.5" lengthAdjust="spacingAndGlyphs">100</text>
<text x="505" y="247" font-size="7.8" textLength="31.5" lengthAdjust="spacingAndGlyphs">φ32×3.5</text>
<line x1="477" y1="249.5" x2="482" y2="249.5" stroke-width="0.8"/>
<line x1="495" y1="249.5" x2="550.5" y2="249.5" stroke-width="1.1"/>
<text x="478.5" y="306" font-size="7.6" textLength="21" lengthAdjust="spacingAndGlyphs" font-style="italic" font-weight="bold">D—D</text>
<line x1="475.5" y1="307.5" x2="502.5" y2="307.5" stroke-width="1.1"/>
<text x="483" y="317" font-size="7.2" textLength="13.5" lengthAdjust="spacingAndGlyphs" font-weight="bold">1:5</text>
<text x="439" y="333.3" font-size="7.6" textLength="7.5" lengthAdjust="spacingAndGlyphs" font-weight="bold">45</text>
<line x1="437" y1="334.5" x2="449" y2="334.5" stroke-width="1.1"/>
<line x1="449" y1="334.6" x2="472.5" y2="359.5" stroke-width="1.1"/>
<text x="439" y="347.1" font-size="7.6" textLength="7.5" lengthAdjust="spacingAndGlyphs" font-weight="bold">46</text>
<line x1="437" y1="348.5" x2="448.5" y2="348.5" stroke-width="1.1"/>
<text x="439" y="362.7" font-size="7.6" textLength="7.5" lengthAdjust="spacingAndGlyphs" font-weight="bold">47</text>
<line x1="437" y1="364.5" x2="448.5" y2="364.5" stroke-width="1.1"/>
<line x1="448.5" y1="348.4" x2="448.5" y2="364" stroke-width="1.1"/>
<line x1="448.5" y1="348.4" x2="459" y2="355.5" stroke-width="1.1"/>
<text x="439" y="377.7" font-size="7.6" textLength="7.5" lengthAdjust="spacingAndGlyphs" font-weight="bold">48</text>
<line x1="437" y1="379.5" x2="449" y2="379.5" stroke-width="1.1"/>
<line x1="449" y1="379" x2="465" y2="371.5" stroke-width="1.1"/>
<text x="439" y="392.7" font-size="7.6" textLength="7.5" lengthAdjust="spacingAndGlyphs" font-weight="bold">49</text>
<line x1="437" y1="394.5" x2="449" y2="394.5" stroke-width="1.1"/>
<line x1="449" y1="394" x2="460.5" y2="383.5" stroke-width="1.1"/>
<text x="439" y="407.7" font-size="7.6" textLength="7.5" lengthAdjust="spacingAndGlyphs" font-weight="bold">50</text>
<line x1="437" y1="409.5" x2="449" y2="409.5" stroke-width="1.1"/>
<line x1="449" y1="409" x2="469.5" y2="401.5" stroke-width="1.1"/>
<line x1="486.5" y1="318" x2="486.5" y2="532" stroke-width="0.7" stroke-dasharray="14 2 2 2"/>
<path d="M480 349 V330 Q480 323.4 486.7 323.4 Q493.5 323.4 493.5 330 V349" stroke-width="1.5" fill="none"/>
<path d="M484 343 V331.5 Q484 328 487.2 328 Q490.5 328 490.5 331.5 V343 Z" stroke-width="1" fill="none"/>
<rect x="473.4" y="349" width="27" height="6" stroke-width="1.5" fill="#fff"/>
<path d="M457.5 363.4 H474 V368.6 H457.5 Z" stroke-width="1.1" fill="url(#h)"/>
<path d="M499.5 363.4 H517.5 V368.6 H499.5 Z" stroke-width="1.1" fill="url(#h)"/>
<path d="M457.5 372.4 L469.5 372.4 L469.5 379.6 L463 379.6 L461 377 L457.5 377 Z" stroke-width="1.1" fill="url(#h)"/>
<path d="M517.5 372.4 L505.5 372.4 L505.5 379.6 L512 379.6 L514 377 L517.5 377 Z" stroke-width="1.1" fill="url(#h)"/>
<line x1="457.5" y1="368.6" x2="457.5" y2="372.4" stroke-width="1"/>
<line x1="517.5" y1="368.6" x2="517.5" y2="372.4" stroke-width="1"/>
<line x1="460.5" y1="352" x2="460.5" y2="388" stroke-width="0.7"/>
<line x1="513.5" y1="352" x2="513.5" y2="388" stroke-width="0.7"/>
<line x1="458.7" y1="354.7" x2="462.3" y2="358.3" stroke-width="1"/>
<line x1="458.7" y1="358.3" x2="462.3" y2="354.7" stroke-width="1"/>
<line x1="458.7" y1="381.7" x2="462.3" y2="385.3" stroke-width="1"/>
<line x1="458.7" y1="385.3" x2="462.3" y2="381.7" stroke-width="1"/>
<line x1="511.2" y1="354.7" x2="514.8" y2="358.3" stroke-width="1"/>
<line x1="511.2" y1="358.3" x2="514.8" y2="354.7" stroke-width="1"/>
<line x1="511.2" y1="381.7" x2="514.8" y2="385.3" stroke-width="1"/>
<line x1="511.2" y1="385.3" x2="514.8" y2="381.7" stroke-width="1"/>
<line x1="469.5" y1="379.6" x2="469.5" y2="413" stroke-width="1.5"/>
<line x1="505.5" y1="379.6" x2="505.5" y2="410.5" stroke-width="1.5"/>
<line x1="472.5" y1="379.6" x2="472.5" y2="411" stroke-width="1"/>
<line x1="502.5" y1="379.6" x2="502.5" y2="410.5" stroke-width="1"/>
<line x1="505.5" y1="406.5" x2="510" y2="406.5" stroke-width="1"/>
<rect x="505.5" y="406.5" width="4.5" height="4" stroke-width="0.8" fill="#000"/>
<path d="M474 355 V438 Q474 442 478 442 H478.8 M494 442 H495.5 Q499.5 442 499.5 438 V355" stroke-width="1.5" fill="none"/>
<line x1="476.5" y1="355" x2="476.5" y2="436" stroke-width="0.8"/>
<line x1="497.5" y1="355" x2="497.5" y2="436" stroke-width="0.8"/>
<path d="M478.8 355 H482.4 V464.5 H478.8 Z" stroke-width="1" fill="url(#h)"/>
<path d="M490.6 355 H494.2 V464.5 H490.6 Z" stroke-width="1" fill="url(#h)"/>
<line x1="477" y1="464.5" x2="496" y2="464.5" stroke-width="1.1"/>
<line x1="477" y1="473.5" x2="496" y2="473.5" stroke-width="1.1"/>
<path d="M478.8 473.5 V503 Q478.8 508 486.5 508 Q494.2 508 494.2 503 V473.5" stroke-width="1.5" fill="none"/>
<path d="M482.4 473.5 V501.5 Q482.4 504.5 486.5 504.5 Q490.6 504.5 490.6 501.5 V473.5" stroke-width="1" fill="none"/>
<line x1="478.8" y1="478.5" x2="482.4" y2="476" stroke-width="0.9"/>
<line x1="490.6" y1="478.5" x2="494.2" y2="476" stroke-width="0.9"/>
<line x1="478.8" y1="482.5" x2="482.4" y2="480" stroke-width="0.9"/>
<line x1="490.6" y1="482.5" x2="494.2" y2="480" stroke-width="0.9"/>
<line x1="478.8" y1="486.5" x2="482.4" y2="484" stroke-width="0.9"/>
<line x1="490.6" y1="486.5" x2="494.2" y2="484" stroke-width="0.9"/>
<line x1="478.8" y1="490.5" x2="482.4" y2="488" stroke-width="0.9"/>
<line x1="490.6" y1="490.5" x2="494.2" y2="488" stroke-width="0.9"/>
<line x1="478.8" y1="494.5" x2="482.4" y2="492" stroke-width="0.9"/>
<line x1="490.6" y1="494.5" x2="494.2" y2="492" stroke-width="0.9"/>
<line x1="478.8" y1="498.5" x2="482.4" y2="496" stroke-width="0.9"/>
<line x1="490.6" y1="498.5" x2="494.2" y2="496" stroke-width="0.9"/>
<line x1="478.8" y1="502.5" x2="482.4" y2="500" stroke-width="0.9"/>
<line x1="490.6" y1="502.5" x2="494.2" y2="500" stroke-width="0.9"/>
<path d="M469.5 413 C468.25 413.83 464.5 416.58 462 418 C459.5 419.42 455.75 420.92 454.5 421.5" stroke-width="1.3" fill="none"/>
<path d="M454.5 421.5 C454.67 424.58 454.83 432.75 455.5 440 C456.17 447.25 456.92 456.17 458.5 465 C460.08 473.83 462.67 485.33 465 493 C467.33 500.67 469.25 506.25 472.5 511 C475.75 515.75 480.25 521 484.5 521.5 C488.75 522 494.25 519.25 498 514 C501.75 508.75 504.75 499 507 490 C509.25 481 510.45 470 511.5 460 C512.55 450 512.92 438.25 513.3 430 C513.68 421.75 513.72 413.75 513.8 410.5" stroke-width="1.3" fill="none"/>
<line x1="505.5" y1="410.5" x2="513.8" y2="410.5" stroke-width="1.5"/>
<line x1="510" y1="376.5" x2="574.5" y2="376.5" stroke-width="1.1"/>
<line x1="510" y1="410.5" x2="549" y2="410.5" stroke-width="1.1"/>
<line x1="543.5" y1="376.7" x2="543.5" y2="410.5" stroke-width="1.1"/>
<path d="M543.5 376.7 L544.75 383.9 L542.25 383.9 Z" fill="#000" stroke-width="0.3"/>
<path d="M543.5 410.5 L542.25 403.3 L544.75 403.3 Z" fill="#000" stroke-width="0.3"/>
<text x="541" y="394" font-size="7.8" text-anchor="middle" transform="rotate(-90 541 394)" textLength="11.5" lengthAdjust="spacingAndGlyphs">150</text>
<line x1="562.5" y1="376.7" x2="562.5" y2="507.5" stroke-width="1.1"/>
<path d="M562.5 376.7 L563.75 383.9 L561.25 383.9 Z" fill="#000" stroke-width="0.3"/>
<path d="M562.5 507.5 L561.25 500.3 L563.75 500.3 Z" fill="#000" stroke-width="0.3"/>
<text x="560.3" y="443.5" font-size="7.8" text-anchor="middle" transform="rotate(-90 560.3 443.5)" textLength="11.5" lengthAdjust="spacingAndGlyphs">550</text>
<line x1="487.5" y1="507.5" x2="567" y2="507.5" stroke-width="1.1"/>
<text x="508.5" y="401" font-size="7.8" textLength="24" lengthAdjust="spacingAndGlyphs">φ76×4</text>
<line x1="505.5" y1="403.5" x2="537" y2="403.5" stroke-width="1.1"/>
<text x="474.5" y="552" font-size="7.6" textLength="20.5" lengthAdjust="spacingAndGlyphs" font-style="italic" font-weight="bold">A—A</text>
<line x1="471.5" y1="553.5" x2="498" y2="553.5" stroke-width="1.1"/>
<text x="477.5" y="562.5" font-size="7.2" textLength="14.1" lengthAdjust="spacingAndGlyphs" font-weight="bold">1:2</text>
<line x1="447.5" y1="622.5" x2="521" y2="622.5" stroke-width="0.7" stroke-dasharray="22 2 3 2"/>
<line x1="483.5" y1="591.5" x2="483.5" y2="656" stroke-width="0.7" stroke-dasharray="22 2 3 2"/>
<path d="M507.5 585.5 Q510.5 620 507.5 654.5 H513.5 Q516.5 620 513.5 585.5 Z" stroke-width="1.1" fill="url(#h)"/>
<path d="M507.5 587 C506.25 586.5 505.25 584.5 500 584 C494.75 583.5 481.67 583.5 476 584 C470.33 584.5 468.5 585.75 466 587 C463.5 588.25 462.83 588.83 461 591.5 C459.17 594.17 456.25 598.75 455 603 C453.75 607.25 453.58 612.5 453.5 617 C453.42 621.5 453.75 626 454.5 630 C455.25 634 456.08 637.83 458 641 C459.92 644.17 462.5 647 466 649 C469.5 651 472.08 652.33 479 653 C485.92 653.67 502.75 653 507.5 653" stroke-width="1.2" fill="none"/>
<path d="M467.43 603.25 L470.5 601.05 L473.87 599.33 L477.45 598.14 L481.18 597.51 L484.95 597.44 L488.7 597.95 L492.32 599.01 L495.75 600.61 L498.89 602.7 L501.68 605.24 L504.06 608.18 L505.97 611.44 L507.36 614.95 L508.21 618.63 L508.5 622.4 L508.21 626.17 L507.36 629.85 L505.97 633.36 L504.06 636.62 L501.68 639.56 L498.89 642.1 L495.75 644.19 L492.32 645.79 L488.7 646.85 L484.95 647.36 L481.18 647.29 L477.45 646.66 L473.87 645.47 L470.5 643.75 L467.43 641.55 L470.45 637.95 L472.94 639.74 L475.68 641.13 L478.59 642.1 L481.61 642.61 L484.68 642.67 L487.72 642.26 L490.66 641.39 L493.44 640.1 L496 638.4 L498.27 636.33 L500.2 633.95 L501.75 631.3 L502.88 628.45 L503.57 625.46 L503.8 622.4 L503.57 619.34 L502.88 616.35 L501.75 613.5 L500.2 610.85 L498.27 608.47 L496 606.4 L493.44 604.7 L490.66 603.41 L487.72 602.54 L484.68 602.13 L481.61 602.19 L478.59 602.7 L475.68 603.67 L472.94 605.06 L470.45 606.85 Z" stroke-width="1" fill="url(#h)"/>
<path d="M467.43 603.25 L465.5 603.5 L470.3 606.8" stroke-width="1.1" fill="none"/>
<path d="M467.43 641.55 L465.5 641.5 L470.3 638" stroke-width="1.1" fill="none"/>
<circle cx="483.5" cy="622.4" r="20.3" stroke-width="1.5" fill="none"/>
<circle cx="483.5" cy="622.4" r="16.6" stroke-width="1.5" fill="#fff"/>
<line x1="447.5" y1="622.5" x2="521" y2="622.5" stroke-width="0.7" stroke-dasharray="22 2 3 2"/>
<line x1="483.5" y1="591.5" x2="483.5" y2="656" stroke-width="0.7" stroke-dasharray="22 2 3 2"/>
<path d="M505 612 Q509 622 505 634" stroke-width="1" fill="none"/>
<line x1="483.5" y1="622.4" x2="442.4" y2="580.4" stroke-width="1.1"/>
<line x1="483.5" y1="622.4" x2="440" y2="665.6" stroke-width="1.1"/>
<path d="M445 585 A54 54 0 0 0 445 660" stroke-width="1.1" fill="none"/>
<path d="M445 585 L442.23 589.86 L440.7 588.57 Z" fill="#000" stroke-width="0.3"/>
<path d="M445 660 L440.7 656.43 L442.23 655.14 Z" fill="#000" stroke-width="0.3"/>
<text x="417.5" y="625.5" font-size="7" textLength="10.5" lengthAdjust="spacingAndGlyphs">90°</text>
<text x="478.5" y="580.5" font-size="7.4" textLength="11" lengthAdjust="spacingAndGlyphs" font-style="italic">R8</text>
<line x1="477.5" y1="582.5" x2="470" y2="602" stroke-width="1.1"/>
<path d="M470 602 L470.77 597.48 L472.45 598.12 Z" fill="#000" stroke-width="0.3"/>
<text x="493" y="598" font-size="7" font-style="italic">b</text>
<line x1="504.5" y1="588.5" x2="486.5" y2="615.5" stroke-width="1.1"/>
<path d="M497 599.7 L498.77 595.47 L500.26 596.47 Z" fill="#000" stroke-width="0.3"/>
<path d="M494.3 603.8 L492.53 608.03 L491.04 607.03 Z" fill="#000" stroke-width="0.3"/>
<text x="468.5" y="698.3" font-size="7.6" textLength="21" lengthAdjust="spacingAndGlyphs" font-weight="bold">E—E</text>
<line x1="465.5" y1="700.5" x2="492.5" y2="700.5" stroke-width="1.1"/>
<text x="471" y="709.3" font-size="7.2" textLength="14" lengthAdjust="spacingAndGlyphs" font-weight="bold">1:5</text>
<text x="437" y="741.7" font-size="7.6" textLength="6.6" lengthAdjust="spacingAndGlyphs" font-weight="bold">51</text>
<line x1="435.5" y1="743.5" x2="445.1" y2="743.5" stroke-width="1.1"/>
<line x1="445.1" y1="743" x2="477.5" y2="761" stroke-width="1.1"/>
<line x1="483.5" y1="734" x2="483.5" y2="818" stroke-width="0.7" stroke-dasharray="12 2 2 2"/>
<rect x="471.5" y="741.5" width="25.5" height="5.2" stroke-width="1.5" fill="none"/>
<path d="M461 769.5 C462.5 769.75 466.83 770.33 470 771 C473.17 771.67 476.5 772.5 480 773.5 C483.5 774.5 487.33 775.58 491 777 C494.67 778.42 498.5 780.25 502 782 C505.5 783.75 510.33 786.58 512 787.5 L510.5 791.5 C508.92 790.58 504.42 787.75 501 786 C497.58 784.25 493.67 782.42 490 781 C486.33 779.58 482.5 778.5 479 777.5 C475.5 776.5 472.17 775.67 469 775 C465.83 774.33 461.5 773.75 460 773.5 Z" stroke-width="1.1" fill="url(#h)"/>
<path d="M460 773.5 C460.33 775.08 461 779.75 462 783 C463 786.25 464.33 789.83 466 793 C467.67 796.17 469.67 799.17 472 802 C474.33 804.83 477.33 807.92 480 810 C482.67 812.08 485.17 814 488 814.5 C490.83 815 494.17 814.33 497 813 C499.83 811.67 502.83 809.17 505 806.5 C507.17 803.83 508.83 800.08 510 797 C511.17 793.92 511.67 789.5 512 788" stroke-width="1.3" fill="none"/>
<path d="M476.6 746.7 V804.5 L491 813.5 V746.7 Z" stroke-width="1.5" fill="#fff"/>
<path d="M476.6 759.5 L479.6 764 L479.6 806.3 L476.6 804.5 Z" stroke-width="1" fill="url(#h)"/>
<path d="M491 759.5 L487.5 764 L487.5 811.3 L491 813.5 Z" stroke-width="1" fill="url(#h)"/>
<line x1="479.5" y1="759.5" x2="479.5" y2="764" stroke-width="1"/>
<line x1="487.5" y1="759.5" x2="487.5" y2="764" stroke-width="1"/>
<line x1="497" y1="742.5" x2="551" y2="742.5" stroke-width="1.1"/>
<line x1="491" y1="776.5" x2="536" y2="776.5" stroke-width="1.1"/>
<line x1="485" y1="814.5" x2="554" y2="814.5" stroke-width="1.1"/>
<line x1="533.5" y1="742" x2="533.5" y2="776.7" stroke-width="1.1"/>
<path d="M533.5 742 L534.75 749.2 L532.25 749.2 Z" fill="#000" stroke-width="0.3"/>
<path d="M533.5 776.7 L532.25 769.5 L534.75 769.5 Z" fill="#000" stroke-width="0.3"/>
<text x="531" y="759" font-size="7.8" text-anchor="middle" transform="rotate(-90 531 759)" textLength="11.5" lengthAdjust="spacingAndGlyphs">150</text>
<line x1="548.5" y1="742" x2="548.5" y2="814.5" stroke-width="1.1"/>
<path d="M548.5 742 L549.75 749.2 L547.25 749.2 Z" fill="#000" stroke-width="0.3"/>
<path d="M548.5 814.5 L547.25 807.3 L549.75 807.3 Z" fill="#000" stroke-width="0.3"/>
<text x="546.5" y="779" font-size="7.8" text-anchor="middle" transform="rotate(-90 546.5 779)" textLength="11.5" lengthAdjust="spacingAndGlyphs">250</text>
<text x="436.5" y="763" font-size="7.8" textLength="30.5" lengthAdjust="spacingAndGlyphs">φ32×3.5</text>
<line x1="432.5" y1="765.5" x2="476.6" y2="765.5" stroke-width="1.1"/>
<line x1="491" y1="765.5" x2="509" y2="765.5" stroke-width="1.1"/>
<path d="M476.6 765.5 L471.6 766.4 L471.6 764.6 Z" fill="#000" stroke-width="0.3"/>
<path d="M491 765.5 L496 764.6 L496 766.4 Z" fill="#000" stroke-width="0.3"/>
<line x1="91.5" y1="575" x2="91.5" y2="733.3" stroke-width="1.1"/>
<line x1="372.5" y1="570" x2="372.5" y2="733" stroke-width="1.1"/>
<line x1="91.2" y1="577.5" x2="372.6" y2="577.5" stroke-width="1.1"/>
<path d="M91.2 577.5 L98.4 576.25 L98.4 578.75 Z" fill="#000" stroke-width="0.3"/>
<path d="M372.6 577.5 L365.4 578.75 L365.4 576.25 Z" fill="#000" stroke-width="0.3"/>
<rect x="226" y="569.5" width="17.5" height="7.5" fill="#fff" stroke="none"/>
<text x="227.5" y="576.2" font-size="7.8" textLength="14.5" lengthAdjust="spacingAndGlyphs">2000</text>
<line x1="101.5" y1="595" x2="101.5" y2="744" stroke-width="1.1"/>
<line x1="361.5" y1="594" x2="361.5" y2="744" stroke-width="1.1"/>
<line x1="101.3" y1="599.5" x2="361.3" y2="599.5" stroke-width="1.1"/>
<path d="M101.3 599.5 L108.5 598.25 L108.5 600.75 Z" fill="#000" stroke-width="0.3"/>
<path d="M361.3 599.5 L354.1 600.75 L354.1 598.25 Z" fill="#000" stroke-width="0.3"/>
<text x="226.7" y="597.5" font-size="7.8" textLength="15.3" lengthAdjust="spacingAndGlyphs">1870</text>
<line x1="84" y1="744.5" x2="383" y2="744.5" stroke-width="0.7" stroke-dasharray="26 2.5 3 2.5"/>
<line x1="234.2" y1="601.5" x2="232.6" y2="890" stroke-width="0.7" stroke-dasharray="26 2.5 3 2.5"/>
<rect x="222.5" y="605" width="25" height="20" stroke-width="1.5" fill="none"/>
<line x1="225.5" y1="605" x2="225.5" y2="625" stroke-width="1"/>
<line x1="228.5" y1="605" x2="228.5" y2="625" stroke-width="1"/>
<line x1="240.5" y1="605" x2="240.5" y2="625" stroke-width="1"/>
<line x1="244.5" y1="605" x2="244.5" y2="625" stroke-width="1"/>
<line x1="225.8" y1="625" x2="225.8" y2="638.5" stroke-width="1.5"/>
<line x1="244.2" y1="625" x2="244.2" y2="638.5" stroke-width="1.5"/>
<line x1="228.5" y1="625" x2="228.5" y2="638.8" stroke-width="1"/>
<line x1="240.5" y1="625" x2="240.5" y2="638.8" stroke-width="1"/>
<circle cx="234.3" cy="615.4" r="3.7" stroke-width="1.2" fill="none"/>
<line x1="230.6" y1="615.5" x2="238" y2="615.5" stroke-width="0.8"/>
<rect x="219.2" y="862.5" width="27.2" height="20.5" stroke-width="1.5" fill="none"/>
<line x1="222.5" y1="862.5" x2="222.5" y2="883" stroke-width="1"/>
<line x1="225.5" y1="862.5" x2="225.5" y2="883" stroke-width="1"/>
<line x1="240.5" y1="862.5" x2="240.5" y2="883" stroke-width="1"/>
<line x1="243.5" y1="862.5" x2="243.5" y2="883" stroke-width="1"/>
<line x1="222.8" y1="849.5" x2="222.8" y2="862.5" stroke-width="1.5"/>
<line x1="242.2" y1="849.5" x2="242.2" y2="862.5" stroke-width="1.5"/>
<line x1="226.5" y1="849.3" x2="226.5" y2="862.5" stroke-width="1"/>
<line x1="239.5" y1="849.3" x2="239.5" y2="862.5" stroke-width="1"/>
<circle cx="232.6" cy="872.2" r="3.7" stroke-width="1.2" fill="none"/>
<line x1="228.9" y1="872.5" x2="236.3" y2="872.5" stroke-width="0.8"/>
<rect x="91.2" y="733.3" width="21.3" height="24" stroke-width="1.5" fill="none"/>
<line x1="91.2" y1="736.5" x2="112.5" y2="736.5" stroke-width="1"/>
<line x1="91.2" y1="739.5" x2="112.5" y2="739.5" stroke-width="1"/>
<line x1="91.2" y1="750.5" x2="112.5" y2="750.5" stroke-width="1"/>
<line x1="91.2" y1="753.5" x2="112.5" y2="753.5" stroke-width="1"/>
<line x1="112.5" y1="737.3" x2="127.5" y2="737.3" stroke-width="1.5"/>
<line x1="112.5" y1="752.8" x2="127.5" y2="752.8" stroke-width="1.5"/>
<line x1="112.5" y1="740.5" x2="127.3" y2="740.5" stroke-width="1"/>
<line x1="112.5" y1="750.5" x2="127.3" y2="750.5" stroke-width="1"/>
<line x1="115.5" y1="737.3" x2="115.5" y2="752.8" stroke-width="1"/>
<circle cx="101.9" cy="744" r="3.5" stroke-width="1.2" fill="none"/>
<line x1="101.5" y1="740.5" x2="101.5" y2="747.5" stroke-width="0.8"/>
<rect x="352.7" y="733" width="20.3" height="22.6" stroke-width="1.5" fill="none"/>
<line x1="352.7" y1="736.5" x2="373" y2="736.5" stroke-width="1"/>
<line x1="352.7" y1="739.5" x2="373" y2="739.5" stroke-width="1"/>
<line x1="352.7" y1="749.5" x2="373" y2="749.5" stroke-width="1"/>
<line x1="352.7" y1="752.5" x2="373" y2="752.5" stroke-width="1"/>
<line x1="339" y1="737" x2="352.7" y2="737" stroke-width="1.5"/>
<line x1="339" y1="751.5" x2="352.7" y2="751.5" stroke-width="1.5"/>
<line x1="339.2" y1="740.5" x2="352.7" y2="740.5" stroke-width="1"/>
<line x1="339.2" y1="748.5" x2="352.7" y2="748.5" stroke-width="1"/>
<circle cx="362.6" cy="743.6" r="3.5" stroke-width="1.2" fill="none"/>
<line x1="362.5" y1="740" x2="362.5" y2="747.2" stroke-width="0.8"/>
<circle cx="233.2" cy="744" r="106.3" stroke-width="1.5" fill="none"/>
<circle cx="233.2" cy="744" r="99.8" stroke-width="1.5" fill="none"/>
<circle cx="233.2" cy="744" r="93.4" stroke-width="1.5" fill="none"/>
<circle cx="233.2" cy="744" r="62.7" stroke-width="0.8" fill="none" stroke-dasharray="40 2.5 3 2.5"/>
<circle cx="233.2" cy="744" r="34.3" stroke-width="1.5" fill="none"/>
<circle cx="233.2" cy="744" r="20" stroke-width="1.5" fill="none"/>
<circle cx="233.2" cy="744" r="15.8" stroke-width="1.3" fill="none"/>
<circle cx="233.2" cy="744" r="9.2" stroke-width="1.5" fill="none"/>
<circle cx="233.2" cy="744" r="5.5" stroke-width="1.3" fill="none"/>
<circle cx="168.5" cy="744.4" r="12.3" stroke-width="1.5" fill="none"/>
<circle cx="168.5" cy="744.4" r="9.5" stroke-width="1.2" fill="none"/>
<circle cx="168.5" cy="744.4" r="5.7" stroke-width="1.3" fill="none"/>
<circle cx="168.5" cy="744.4" r="2.8" stroke-width="1" fill="none"/>
<circle cx="295.9" cy="744.2" r="18.2" stroke-width="1.5" fill="none"/>
<circle cx="295.9" cy="744.2" r="15" stroke-width="1.2" fill="none"/>
<circle cx="295.9" cy="744.2" r="7.9" stroke-width="1.3" fill="none"/>
<circle cx="295.9" cy="744.2" r="5.2" stroke-width="1.1" fill="none"/>
<ellipse cx="295.9" cy="744.2" rx="2.2" ry="3" stroke-width="0.9" fill="none"/>
<line x1="264.5" y1="715.5" x2="336.5" y2="645.5" stroke-width="1.1"/>
<circle cx="278.7" cy="701.5" r="9.4" stroke-width="1.5" fill="#fff"/>
<circle cx="278.7" cy="701.5" r="7" stroke-width="1.2" fill="none"/>
<circle cx="278.7" cy="701.5" r="4.3" stroke-width="1" fill="none"/>
<rect x="276.3" y="699.1" width="4.8" height="4.8" stroke-width="0.9" fill="none"/>
<line x1="276.3" y1="699.1" x2="281.1" y2="703.9" stroke-width="0.8"/>
<line x1="276.3" y1="703.9" x2="281.1" y2="699.1" stroke-width="0.8"/>
<line x1="258" y1="775" x2="328" y2="844" stroke-width="1.1"/>
<circle cx="274.9" cy="791.1" r="9.2" stroke-width="1.5" fill="#fff"/>
<circle cx="274.9" cy="791.1" r="6.8" stroke-width="1.3" fill="none"/>
<circle cx="274.9" cy="791.1" r="4.3" stroke-width="1" fill="none"/>
<line x1="272.4" y1="788.8" x2="277.2" y2="793.6" stroke-width="0.8"/>
<line x1="272.4" y1="793.6" x2="277.2" y2="788.8" stroke-width="0.8"/>
<line x1="203.5" y1="774" x2="142" y2="832" stroke-width="1.1"/>
<circle cx="186.5" cy="789.5" r="15" stroke-width="1.5" fill="#fff"/>
<circle cx="186.5" cy="789.5" r="10" stroke-width="1.5" fill="none"/>
<circle cx="186.5" cy="789.5" r="5.2" stroke-width="1.1" fill="none"/>
<line x1="179.5" y1="782.5" x2="193.5" y2="796.5" stroke-width="0.9"/>
<line x1="179.5" y1="796.5" x2="193.5" y2="782.5" stroke-width="0.9"/>
<path d="M203.5 774 L200.82 777.73 L199.6 776.41 Z" fill="#000" stroke-width="0.3"/>
<path d="M299.3 822 L313.2 835.7" stroke-width="1.5" fill="none"/>
<path d="M303 818.3 L317 832" stroke-width="1.5" fill="none"/>
<path d="M310.5 839.5 L320.5 829.5" stroke-width="3.6" fill="none" stroke-linecap="round"/>
<path d="M310.5 839.5 L320.5 829.5" stroke-width="1.4" fill="none" stroke-linecap="round" stroke="#fff"/>
<circle cx="232.6" cy="807.5" r="26.2" stroke-width="1.5" fill="#fff"/>
<circle cx="232.6" cy="807.5" r="22.5" stroke-width="1.5" fill="none"/>
<path d="M211.5 787.5 L232.8 807.3" stroke-width="4.2" fill="none" stroke-linecap="round"/>
<path d="M211.5 787.5 L232.8 807.3" stroke-width="2" fill="none" stroke-linecap="round" stroke="#fff"/>
<path d="M232.8 807.3 L254.5 827.5" stroke-width="4.2" fill="none" stroke-linecap="round"/>
<path d="M232.8 807.3 L254.5 827.5" stroke-width="2" fill="none" stroke-linecap="round" stroke="#fff"/>
<path d="M207 805 L232.8 806 L261.5 804.6 V810.4 L232.8 809 L207 810 Z" stroke-width="1.1" fill="#fff"/>
<circle cx="203" cy="807.5" r="5.6" stroke-width="1.5" fill="#fff"/>
<circle cx="203" cy="807.5" r="3" stroke-width="1" fill="none"/>
<rect x="261.5" y="803.6" width="4.8" height="8" stroke-width="1.2" fill="#fff"/>
<rect x="266.3" y="805.4" width="4.7" height="4.4" stroke-width="1.1" fill="#fff"/>
<circle cx="232.8" cy="807.5" r="6" stroke-width="1.5" fill="#fff"/>
<circle cx="232.8" cy="807.5" r="3.2" stroke-width="1.1" fill="none"/>
<line x1="232.5" y1="780" x2="232.5" y2="836" stroke-width="0.7" stroke-dasharray="10 2.5 3 2.5"/>
<text x="218.5" y="816.5" font-size="6.8" textLength="12" lengthAdjust="spacingAndGlyphs" transform="rotate(18 218.5 816.5)" font-style="italic">C-C</text>
<line x1="172.8" y1="763.2" x2="293.8" y2="725" stroke-width="0.9"/>
<path d="M172.8 763.2 L177.74 760.59 L178.35 762.5 Z" fill="#000" stroke-width="0.3"/>
<line x1="293.8" y1="725" x2="296" y2="736" stroke-width="0.9"/>
<text x="268" y="729.8" font-size="7" textLength="20" lengthAdjust="spacingAndGlyphs" transform="rotate(-15 268 729.8)">φ1000</text>
<path d="M115.46 757.41 A118.5 118.5 0 0 0 145.83 824.06" stroke-width="1.1" fill="none"/>
<path d="M145.83 824.06 L141.26 820.84 L142.69 819.43 Z" fill="#000" stroke-width="0.3"/>
<path d="M367.62 739.31 A134.5 134.5 0 0 0 330.76 651.42" stroke-width="1.1" fill="none"/>
<path d="M330.76 651.42 L335.16 654.87 L333.66 656.2 Z" fill="#000" stroke-width="0.3"/>
<path d="M368.68 746.36 A135.5 135.5 0 0 1 329.01 839.81" stroke-width="1.1" fill="none"/>
<path d="M329.01 839.81 L332.03 835.11 L333.5 836.47 Z" fill="#000" stroke-width="0.3"/>
<line x1="114.5" y1="752.8" x2="114.5" y2="758" stroke-width="0.9"/>
<text x="109.5" y="789.2" font-size="7" textLength="10.5" lengthAdjust="spacingAndGlyphs" font-style="italic">45°</text>
<text x="350.5" y="693" font-size="7" textLength="9.5" lengthAdjust="spacingAndGlyphs" font-style="italic">45°</text>
<text x="352" y="797" font-size="7" textLength="10" lengthAdjust="spacingAndGlyphs" font-style="italic">45°</text>
<text x="156.7" y="735" font-size="7.8" text-anchor="middle" font-style="italic">e</text>
<text x="148.8" y="752" font-size="7.8" text-anchor="middle" font-style="italic">D</text>
<text x="187.5" y="752" font-size="7.8" text-anchor="middle" font-style="italic">B</text>
<text x="168" y="786.5" font-size="7.8" text-anchor="middle" font-style="italic">d</text>
<text x="206.8" y="781.5" font-size="7.8" text-anchor="middle" font-style="italic">D</text>
<text x="176" y="811.5" font-size="7.8" text-anchor="middle" font-style="italic">D</text>
<text x="280" y="690.5" font-size="7.8" text-anchor="middle" font-style="italic">f</text>
<text x="294" y="696.3" font-size="7.8" text-anchor="middle" font-style="italic">C</text>
<text x="272" y="718" font-size="7.8" text-anchor="middle" font-style="italic">C</text>
<text x="265.3" y="779.5" font-size="7.8" text-anchor="middle">E</text>
<text x="286.7" y="787" font-size="7.8" text-anchor="middle" font-style="italic">b</text>
<text x="293" y="803.5" font-size="7.8" text-anchor="middle" font-style="italic">E</text>
<text x="320" y="742" font-size="6.5" text-anchor="middle" font-style="italic">a</text>
<text x="320" y="751.5" font-size="6.5" text-anchor="middle" font-style="italic">h</text>
<line x1="317" y1="743.5" x2="323" y2="743.5" stroke-width="0.8"/>
</svg>
</body></html>
